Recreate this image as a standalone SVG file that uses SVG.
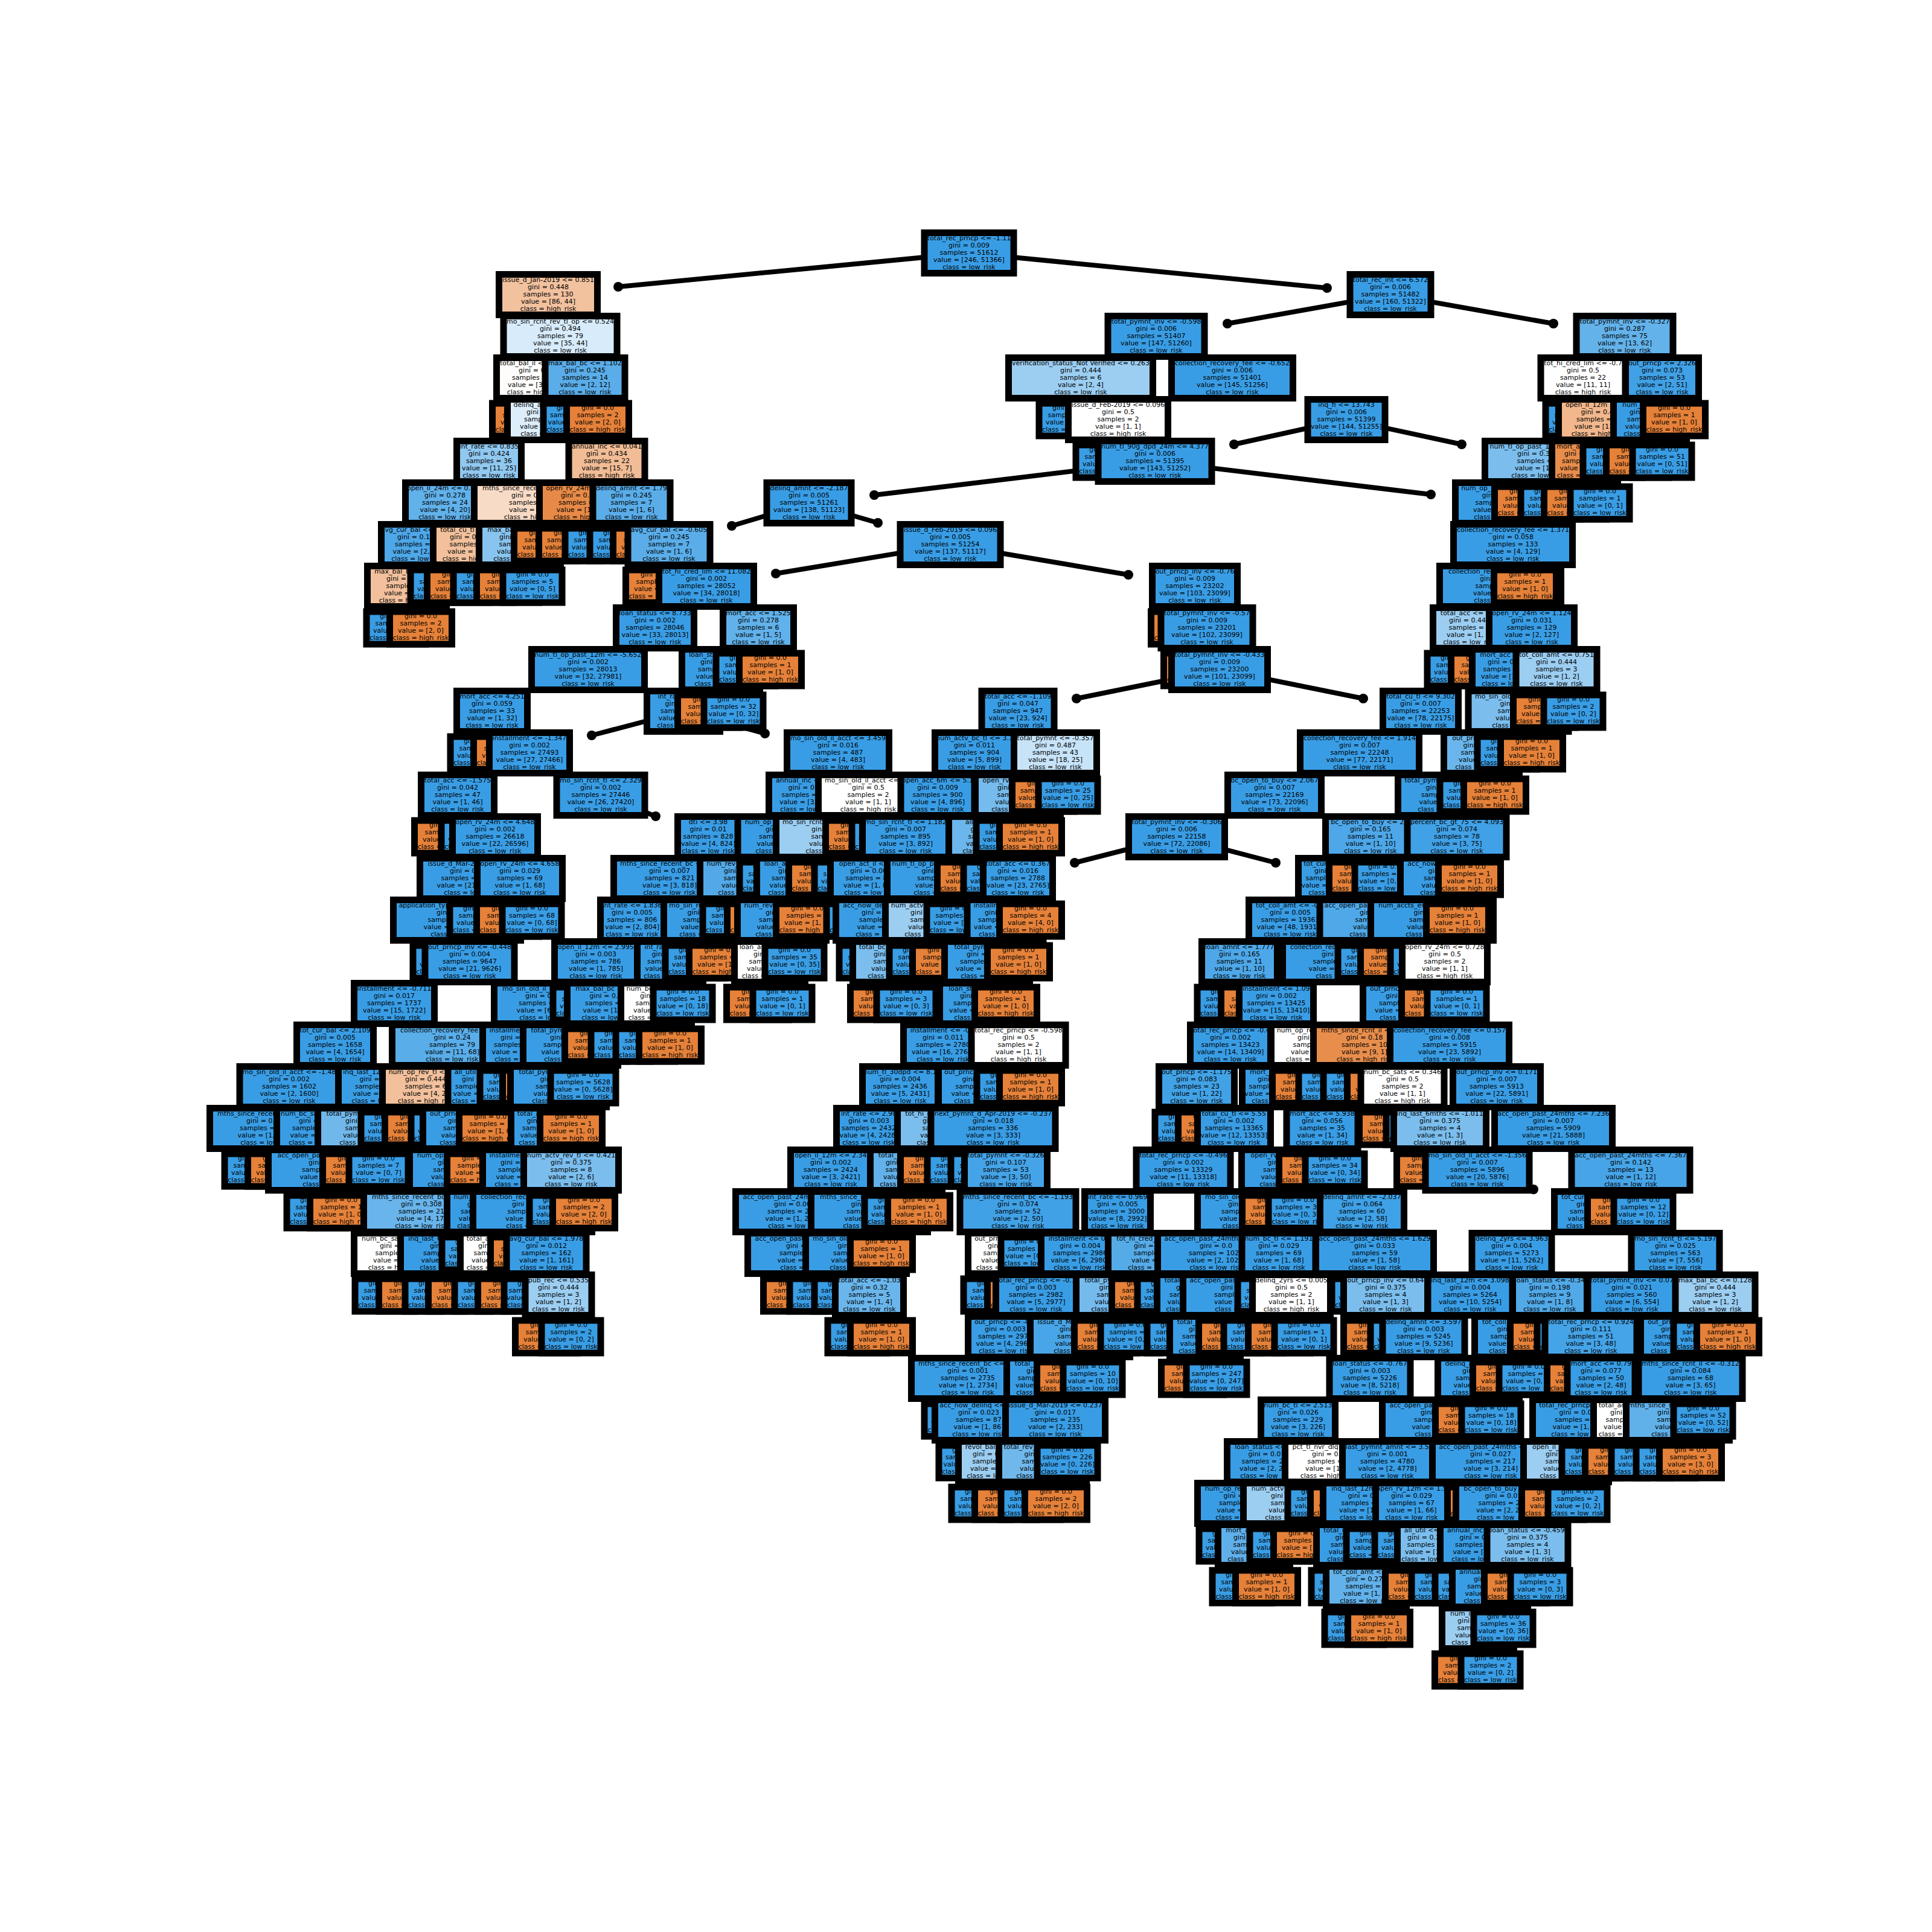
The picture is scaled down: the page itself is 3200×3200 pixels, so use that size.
<svg xmlns="http://www.w3.org/2000/svg" width="3200" height="3200" viewBox="0 0 3200 3200">
<style>
text{font:11px "DejaVu Sans","Liberation Sans",sans-serif;text-anchor:middle;fill:#000}
rect,.r{stroke:#000;stroke-width:11}
.b{fill:#399de5}.o{fill:#e58139}.w{fill:#fff}
.e{stroke:#000;stroke-width:8;fill:none;stroke-linecap:round;marker-end:url(#ball)}
</style>
<defs>
<marker id="ball" markerUnits="userSpaceOnUse" markerWidth="20" markerHeight="20" refX="10" refY="10" overflow="visible"><circle cx="10" cy="10" r="8" fill="#000"/></marker>
<rect id="lb" class="b" x="-49" y="-27" width="98" height="54"/>
<rect id="lo" class="o" x="-51.5" y="-27" width="103" height="54"/>
</defs>
<rect x="0" y="0" width="3200" height="3200" style="fill:#fff;stroke:none"/>
<g id="connectors">
<path class="e" d="M1605 419L1024 475"/><path class="e" d="M1605 419L2198 477"/>
<path class="e" d="M2303 488L2033 536"/><path class="e" d="M2303 488L2573 536"/>
<path class="e" d="M2230 695L2044 736"/><path class="e" d="M2230 695L2421 736"/>
<path class="e" d="M1913 764L1448 820"/><path class="e" d="M1913 764L2370 819"/>
<path class="e" d="M1340 833L1212 871"/><path class="e" d="M1340 833L1454 866"/>
<path class="e" d="M1574 902L1285 950"/><path class="e" d="M1574 902L1869 952"/>
<path class="e" d="M2020 1109L1783 1157"/><path class="e" d="M2020 1109L2258 1157"/>
<path class="e" d="M1132 1178L980 1218"/><path class="e" d="M1132 1178L1267 1215"/>
<path class="e" d="M995 1317L1086 1352"/>
<path class="e" d="M1949 1386L1780 1429"/><path class="e" d="M1949 1386L2113 1429"/>
<path class="e" d="M2380 1965L2540 1970"/>
</g>
<g transform="translate(0,419)">
<g id="n0_1" transform="translate(1605)"><rect class="b" x="-74" width="148" y="-33.5" height="67"/><text y="-21">total_rec_prncp &lt;= -1.11</text><text y="-9">gini = 0.009</text><text y="3">samples = 51612</text><text y="15">value = [246, 51366]</text><text y="27">class = low_risk</text></g>
</g>
<g transform="translate(0,488)">
<g id="n1_1" transform="translate(908)"><rect style="fill:#f2c19e" x="-81.5" width="163" y="-33.5" height="67"/><text y="-21">issue_d_Jan-2019 &lt;= 0.851</text><text y="-9">gini = 0.448</text><text y="3">samples = 130</text><text y="15">value = [86, 44]</text><text y="27">class = high_risk</text></g>
<g id="n1_2" transform="translate(2303)"><rect class="b" x="-67" width="134" y="-33.5" height="67"/><text y="-21">total_rec_int &lt;= 6.572</text><text y="-9">gini = 0.006</text><text y="3">samples = 51482</text><text y="15">value = [160, 51322]</text><text y="27">class = low_risk</text></g>
</g>
<g transform="translate(0,557)">
<g id="n2_1" transform="translate(928)"><rect style="fill:#d7ebfa" x="-94" width="188" y="-33.5" height="67"/><text y="-21">mo_sin_rcnt_rev_tl_op &lt;= 0.524</text><text y="-9">gini = 0.494</text><text y="3">samples = 79</text><text y="15">value = [35, 44]</text><text y="27">class = low_risk</text></g>
<g id="n2_2" transform="translate(1915)"><rect class="b" x="-80" width="160" y="-33.5" height="67"/><text y="-21">total_pymnt_inv &lt;= -0.598</text><text y="-9">gini = 0.006</text><text y="3">samples = 51407</text><text y="15">value = [147, 51260]</text><text y="27">class = low_risk</text></g>
<g id="n2_3" transform="translate(2691)"><rect style="fill:#63b2ea" x="-80" width="160" y="-33.5" height="67"/><text y="-21">total_pymnt_inv &lt;= -0.327</text><text y="-9">gini = 0.287</text><text y="3">samples = 75</text><text y="15">value = [13, 62]</text><text y="27">class = low_risk</text></g>
</g>
<g transform="translate(0,626)">
<g id="n3_1" transform="translate(886)"><rect style="fill:#fffdfb" x="-63.5" width="127" y="-33.5" height="67"/><text y="-21">total_bal_il &lt;= 0.123</text><text y="-9">gini = 0.5</text><text y="3">samples = 65</text><text y="15">value = [33, 32]</text><text y="27">class = high_risk</text></g>
<g id="n3_2" transform="translate(969)"><rect style="fill:#5aade9" x="-66" width="132" y="-33.5" height="67"/><text y="-21">max_bal_bc &lt;= 1.102</text><text y="-9">gini = 0.245</text><text y="3">samples = 14</text><text y="15">value = [2, 12]</text><text y="27">class = low_risk</text></g>
<g id="n3_3" transform="translate(1790)"><rect style="fill:#9ccef2" x="-119.5" width="239" y="-33.5" height="67"/><text y="-21">verification_status_Not Verified &lt;= 0.263</text><text y="-9">gini = 0.444</text><text y="3">samples = 6</text><text y="15">value = [2, 4]</text><text y="27">class = low_risk</text></g>
<g id="n3_4" transform="translate(2041)"><rect class="b" x="-100.5" width="201" y="-33.5" height="67"/><text y="-21">collection_recovery_fee &lt;= -0.652</text><text y="-9">gini = 0.006</text><text y="3">samples = 51401</text><text y="15">value = [145, 51256]</text><text y="27">class = low_risk</text></g>
<g id="n3_5" transform="translate(2622)"><rect class="w" x="-70" width="140" y="-33.5" height="67"/><text y="-21">tot_hi_cred_lim &lt;= -0.7</text><text y="-9">gini = 0.5</text><text y="3">samples = 22</text><text y="15">value = [11, 11]</text><text y="27">class = high_risk</text></g>
<g id="n3_6" transform="translate(2753)"><rect style="fill:#41a1e6" x="-60.5" width="121" y="-33.5" height="67"/><text y="-21">out_prncp &lt;= 2.326</text><text y="-9">gini = 0.073</text><text y="3">samples = 53</text><text y="15">value = [2, 51]</text><text y="27">class = low_risk</text></g>
</g>
<g transform="translate(0,695)">
<g id="n4_1" transform="translate(867)"><use href="#lo"/><text y="-16">gini = 0.0</text><text y="-4">samples = 6</text><text y="8">value = [6, 0]</text><text y="20">class = high_risk</text></g>
<g id="n4_2" transform="translate(906)"><rect style="fill:#ddeefb" x="-65.5" width="131" y="-33.5" height="67"/><text y="-21">delinq_amnt &lt;= 0.5</text><text y="-9">gini = 0.496</text><text y="3">samples = 59</text><text y="15">value = [27, 32]</text><text y="27">class = low_risk</text></g>
<g id="n4_3" transform="translate(949)"><use href="#lb"/><text y="-16">gini = 0.0</text><text y="-4">samples = 12</text><text y="8">value = [0, 12]</text><text y="20">class = low_risk</text></g>
<g id="n4_4" transform="translate(990)"><use href="#lo"/><text y="-16">gini = 0.0</text><text y="-4">samples = 2</text><text y="8">value = [2, 0]</text><text y="20">class = high_risk</text></g>
<g id="n4_5" transform="translate(1770)"><use href="#lb"/><text y="-16">gini = 0.0</text><text y="-4">samples = 4</text><text y="8">value = [0, 4]</text><text y="20">class = low_risk</text></g>
<g id="n4_6" transform="translate(1852)"><rect class="w" x="-82.5" width="165" y="-33.5" height="67"/><text y="-21">issue_d_Feb-2019 &lt;= 0.096</text><text y="-9">gini = 0.5</text><text y="3">samples = 2</text><text y="15">value = [1, 1]</text><text y="27">class = high_risk</text></g>
<g id="n4_7" transform="translate(2230)"><rect class="b" x="-64" width="128" y="-33.5" height="67"/><text y="-21">inq_fi &lt;= 13.743</text><text y="-9">gini = 0.006</text><text y="3">samples = 51399</text><text y="15">value = [144, 51255]</text><text y="27">class = low_risk</text></g>
<g id="n4_8" transform="translate(2609)"><use href="#lb"/><text y="-16">gini = 0.0</text><text y="-4">samples = 6</text><text y="8">value = [0, 6]</text><text y="20">class = low_risk</text></g>
<g id="n4_9" transform="translate(2649)"><rect style="fill:#f2b78d" x="-67.5" width="135" y="-33.5" height="67"/><text y="-21">open_il_12m &lt;= 1.2</text><text y="-9">gini = 0.43</text><text y="3">samples = 16</text><text y="15">value = [11, 5]</text><text y="27">class = high_risk</text></g>
<g id="n4_10" transform="translate(2733)"><rect class="b" x="-60.5" width="121" y="-33.5" height="67"/><text y="-21">num_il_tl &lt;= 1.5</text><text y="-9">gini = 0.038</text><text y="3">samples = 52</text><text y="15">value = [1, 51]</text><text y="27">class = low_risk</text></g>
<g id="n4_11" transform="translate(2773)"><use href="#lo"/><text y="-16">gini = 0.0</text><text y="-4">samples = 1</text><text y="8">value = [1, 0]</text><text y="20">class = high_risk</text></g>
</g>
<g transform="translate(0,764)">
<g id="n5_1" transform="translate(810)"><rect style="fill:#90c8f0" x="-53.5" width="107" y="-33.5" height="67"/><text y="-21">int_rate &lt;= 0.835</text><text y="-9">gini = 0.424</text><text y="3">samples = 36</text><text y="15">value = [11, 25]</text><text y="27">class = low_risk</text></g>
<g id="n5_2" transform="translate(1005)"><rect style="fill:#f1bc96" x="-63" width="126" y="-33.5" height="67"/><text y="-21">annual_inc &lt;= 0.041</text><text y="-9">gini = 0.434</text><text y="3">samples = 22</text><text y="15">value = [15, 7]</text><text y="27">class = high_risk</text></g>
<g id="n5_3" transform="translate(1831)"><use href="#lb"/><text y="-16">gini = 0.0</text><text y="-4">samples = 1</text><text y="8">value = [0, 1]</text><text y="20">class = low_risk</text></g>
<g id="n5_4" transform="translate(1913)"><rect class="b" x="-94" width="188" y="-33.5" height="67"/><text y="-21">num_tl_90g_dpd_24m &lt;= 4.377</text><text y="-9">gini = 0.006</text><text y="3">samples = 51395</text><text y="15">value = [143, 51252]</text><text y="27">class = low_risk</text></g>
<g id="n5_5" transform="translate(2547)"><rect style="fill:#7bbeee" x="-87.5" width="175" y="-33.5" height="67"/><text y="-21">num_tl_op_past_12m &lt;= 1.5</text><text y="-9">gini = 0.375</text><text y="3">samples = 4</text><text y="15">value = [1, 3]</text><text y="27">class = low_risk</text></g>
<g id="n5_6" transform="translate(2625)"><rect style="fill:#e88d4c" x="-54.5" width="109" y="-33.5" height="67"/><text y="-21">mort_acc &lt;= 0.8</text><text y="-9">gini = 0.278</text><text y="3">samples = 12</text><text y="15">value = [10, 2]</text><text y="27">class = high_risk</text></g>
<g id="n5_7" transform="translate(2671)"><use href="#lb"/><text y="-16">gini = 0.0</text><text y="-4">samples = 1</text><text y="8">value = [0, 1]</text><text y="20">class = low_risk</text></g>
<g id="n5_8" transform="translate(2712)"><use href="#lo"/><text y="-16">gini = 0.0</text><text y="-4">samples = 1</text><text y="8">value = [1, 0]</text><text y="20">class = high_risk</text></g>
<g id="n5_9" transform="translate(2753)"><use href="#lb"/><text y="-16">gini = 0.0</text><text y="-4">samples = 51</text><text y="8">value = [0, 51]</text><text y="20">class = low_risk</text></g>
</g>
<g transform="translate(0,833)">
<g id="n6_1" transform="translate(737)"><rect style="fill:#61b1ea" x="-65.5" width="131" y="-33.5" height="67"/><text y="-21">open_il_24m &lt;= 0.123</text><text y="-9">gini = 0.278</text><text y="3">samples = 24</text><text y="15">value = [4, 20]</text><text y="27">class = low_risk</text></g>
<g id="n6_2" transform="translate(881)"><rect style="fill:#f8dbc6" x="-95.5" width="191" y="-33.5" height="67"/><text y="-21">mths_since_recent_bc &lt;= 0.2</text><text y="-9">gini = 0.486</text><text y="3">samples = 12</text><text y="15">value = [7, 5]</text><text y="27">class = high_risk</text></g>
<g id="n6_3" transform="translate(963)"><rect style="fill:#e78a47" x="-69.5" width="139" y="-33.5" height="67"/><text y="-21">open_rv_24m &lt;= 1.5</text><text y="-9">gini = 0.124</text><text y="3">samples = 15</text><text y="15">value = [14, 1]</text><text y="27">class = high_risk</text></g>
<g id="n6_4" transform="translate(1046)"><rect style="fill:#5aade9" x="-64" width="128" y="-33.5" height="67"/><text y="-21">delinq_amnt &lt;= 1.79</text><text y="-9">gini = 0.245</text><text y="3">samples = 7</text><text y="15">value = [1, 6]</text><text y="27">class = low_risk</text></g>
<g id="n6_5" transform="translate(1340)"><rect class="b" x="-70" width="140" y="-33.5" height="67"/><text y="-21">delinq_amnt &lt;= -2.187</text><text y="-9">gini = 0.005</text><text y="3">samples = 51261</text><text y="15">value = [138, 51123]</text><text y="27">class = low_risk</text></g>
<g id="n6_6" transform="translate(2485)"><rect class="b" x="-74.5" width="149" y="-33.5" height="67"/><text y="-21">num_op_rev_tl &lt;= 1.23</text><text y="-9">gini = 0.06</text><text y="3">samples = 137</text><text y="15">value = [5, 132]</text><text y="27">class = low_risk</text></g>
<g id="n6_7" transform="translate(2527)"><use href="#lo"/><text y="-16">gini = 0.0</text><text y="-4">samples = 1</text><text y="8">value = [1, 0]</text><text y="20">class = high_risk</text></g>
<g id="n6_8" transform="translate(2568)"><use href="#lb"/><text y="-16">gini = 0.0</text><text y="-4">samples = 1</text><text y="8">value = [0, 1]</text><text y="20">class = low_risk</text></g>
<g id="n6_9" transform="translate(2609)"><use href="#lo"/><text y="-16">gini = 0.0</text><text y="-4">samples = 1</text><text y="8">value = [1, 0]</text><text y="20">class = high_risk</text></g>
<g id="n6_10" transform="translate(2650)"><use href="#lb"/><text y="-16">gini = 0.0</text><text y="-4">samples = 1</text><text y="8">value = [0, 1]</text><text y="20">class = low_risk</text></g>
</g>
<g transform="translate(0,902)">
<g id="n7_1" transform="translate(692)"><rect style="fill:#4da7e8" x="-60.5" width="121" y="-33.5" height="67"/><text y="-21">avg_cur_bal &lt;= 0.123</text><text y="-9">gini = 0.165</text><text y="3">samples = 22</text><text y="15">value = [2, 20]</text><text y="27">class = low_risk</text></g>
<g id="n7_2" transform="translate(779)"><rect style="fill:#f2c09c" x="-61.5" width="123" y="-33.5" height="67"/><text y="-21">total_cu_tl &lt;= 0.5</text><text y="-9">gini = 0.444</text><text y="3">samples = 3</text><text y="15">value = [2, 1]</text><text y="27">class = high_risk</text></g>
<g id="n7_3" transform="translate(861)"><rect style="fill:#88c4ef" x="-67.5" width="135" y="-33.5" height="67"/><text y="-21">max_bal_bc &lt;= 0.5</text><text y="-9">gini = 0.408</text><text y="3">samples = 7</text><text y="15">value = [2, 5]</text><text y="27">class = low_risk</text></g>
<g id="n7_4" transform="translate(903)"><use href="#lo"/><text y="-16">gini = 0.0</text><text y="-4">samples = 5</text><text y="8">value = [5, 0]</text><text y="20">class = high_risk</text></g>
<g id="n7_5" transform="translate(944)"><use href="#lo"/><text y="-16">gini = 0.0</text><text y="-4">samples = 14</text><text y="8">value = [14, 0]</text><text y="20">class = high_risk</text></g>
<g id="n7_6" transform="translate(985)"><use href="#lb"/><text y="-16">gini = 0.0</text><text y="-4">samples = 1</text><text y="8">value = [0, 1]</text><text y="20">class = low_risk</text></g>
<g id="n7_7" transform="translate(1026)"><use href="#lb"/><text y="-16">gini = 0.0</text><text y="-4">samples = 6</text><text y="8">value = [0, 6]</text><text y="20">class = low_risk</text></g>
<g id="n7_8" transform="translate(1067)"><use href="#lo"/><text y="-16">gini = 0.0</text><text y="-4">samples = 1</text><text y="8">value = [1, 0]</text><text y="20">class = high_risk</text></g>
<g id="n7_9" transform="translate(1108)"><rect style="fill:#5aade9" x="-68" width="136" y="-33.5" height="67"/><text y="-21">avg_cur_bal &lt;= -0.605</text><text y="-9">gini = 0.245</text><text y="3">samples = 7</text><text y="15">value = [1, 6]</text><text y="27">class = low_risk</text></g>
<g id="n7_10" transform="translate(1574)"><rect class="b" x="-83" width="166" y="-33.5" height="67"/><text y="-21">issue_d_Feb-2019 &lt;= 0.096</text><text y="-9">gini = 0.005</text><text y="3">samples = 51254</text><text y="15">value = [137, 51117]</text><text y="27">class = low_risk</text></g>
<g id="n7_11" transform="translate(2506)"><rect class="b" x="-98.5" width="197" y="-33.5" height="67"/><text y="-21">collection_recovery_fee &lt;= 1.371</text><text y="-9">gini = 0.058</text><text y="3">samples = 133</text><text y="15">value = [4, 129]</text><text y="27">class = low_risk</text></g>
</g>
<g transform="translate(0,971)">
<g id="n8_1" transform="translate(674)"><rect style="fill:#f2c09c" x="-65.5" width="131" y="-33.5" height="67"/><text y="-21">max_bal_bc &lt;= 0.5</text><text y="-9">gini = 0.444</text><text y="3">samples = 3</text><text y="15">value = [2, 1]</text><text y="27">class = high_risk</text></g>
<g id="n8_2" transform="translate(729)"><use href="#lb"/><text y="-16">gini = 0.0</text><text y="-4">samples = 1</text><text y="8">value = [0, 1]</text><text y="20">class = low_risk</text></g>
<g id="n8_3" transform="translate(759)"><use href="#lo"/><text y="-16">gini = 0.0</text><text y="-4">samples = 1</text><text y="8">value = [1, 0]</text><text y="20">class = high_risk</text></g>
<g id="n8_4" transform="translate(800)"><use href="#lb"/><text y="-16">gini = 0.0</text><text y="-4">samples = 1</text><text y="8">value = [0, 1]</text><text y="20">class = low_risk</text></g>
<g id="n8_5" transform="translate(841)"><use href="#lo"/><text y="-16">gini = 0.0</text><text y="-4">samples = 1</text><text y="8">value = [1, 0]</text><text y="20">class = high_risk</text></g>
<g id="n8_6" transform="translate(882)"><use href="#lb"/><text y="-16">gini = 0.0</text><text y="-4">samples = 5</text><text y="8">value = [0, 5]</text><text y="20">class = low_risk</text></g>
<g id="n8_7" transform="translate(1088)"><use href="#lo"/><text y="-16">gini = 0.0</text><text y="-4">samples = 1</text><text y="8">value = [1, 0]</text><text y="20">class = high_risk</text></g>
<g id="n8_8" transform="translate(1170)"><rect class="b" x="-78.5" width="157" y="-33.5" height="67"/><text y="-21">tot_hi_cred_lim &lt;= 11.082</text><text y="-9">gini = 0.002</text><text y="3">samples = 28052</text><text y="15">value = [34, 28018]</text><text y="27">class = low_risk</text></g>
<g id="n8_9" transform="translate(1979)"><rect class="b" x="-70.5" width="141" y="-33.5" height="67"/><text y="-21">out_prncp_inv &lt;= -0.76</text><text y="-9">gini = 0.009</text><text y="3">samples = 23202</text><text y="15">value = [103, 23099]</text><text y="27">class = low_risk</text></g>
<g id="n8_10" transform="translate(2485)"><rect class="b" x="-100.5" width="201" y="-33.5" height="67"/><text y="-21">collection_recovery_fee &lt;= 0.2</text><text y="-9">gini = 0.045</text><text y="3">samples = 132</text><text y="15">value = [3, 129]</text><text y="27">class = low_risk</text></g>
<g id="n8_11" transform="translate(2526)"><use href="#lo"/><text y="-16">gini = 0.0</text><text y="-4">samples = 1</text><text y="8">value = [1, 0]</text><text y="20">class = high_risk</text></g>
</g>
<g transform="translate(0,1040)">
<g id="n9_1" transform="translate(656)"><use href="#lb"/><text y="-16">gini = 0.0</text><text y="-4">samples = 1</text><text y="8">value = [0, 1]</text><text y="20">class = low_risk</text></g>
<g id="n9_2" transform="translate(697)"><use href="#lo"/><text y="-16">gini = 0.0</text><text y="-4">samples = 2</text><text y="8">value = [2, 0]</text><text y="20">class = high_risk</text></g>
<g id="n9_3" transform="translate(1085)"><rect class="b" x="-64.5" width="129" y="-33.5" height="67"/><text y="-21">loan_status &lt;= 8.733</text><text y="-9">gini = 0.002</text><text y="3">samples = 28046</text><text y="15">value = [33, 28013]</text><text y="27">class = low_risk</text></g>
<g id="n9_4" transform="translate(1256)"><rect style="fill:#61b1ea" x="-58.5" width="117" y="-33.5" height="67"/><text y="-21">mort_acc &lt;= 1.525</text><text y="-9">gini = 0.278</text><text y="3">samples = 6</text><text y="15">value = [1, 5]</text><text y="27">class = low_risk</text></g>
<g id="n9_5" transform="translate(1958)"><use href="#lo"/><text y="-16">gini = 0.0</text><text y="-4">samples = 1</text><text y="8">value = [1, 0]</text><text y="20">class = high_risk</text></g>
<g id="n9_6" transform="translate(1999)"><rect class="b" x="-76" width="152" y="-33.5" height="67"/><text y="-21">total_pymnt_inv &lt;= -0.57</text><text y="-9">gini = 0.009</text><text y="3">samples = 23201</text><text y="15">value = [102, 23099]</text><text y="27">class = low_risk</text></g>
<g id="n9_7" transform="translate(2434)"><rect style="fill:#9ccef2" x="-60.5" width="121" y="-33.5" height="67"/><text y="-21">total_acc &lt;= -1.2</text><text y="-9">gini = 0.444</text><text y="3">samples = 3</text><text y="15">value = [1, 2]</text><text y="27">class = low_risk</text></g>
<g id="n9_8" transform="translate(2537)"><rect class="b" x="-70.5" width="141" y="-33.5" height="67"/><text y="-21">open_rv_24m &lt;= 1.124</text><text y="-9">gini = 0.031</text><text y="3">samples = 129</text><text y="15">value = [2, 127]</text><text y="27">class = low_risk</text></g>
</g>
<g transform="translate(0,1109)">
<g id="n10_1" transform="translate(974)"><rect class="b" x="-93.5" width="187" y="-33.5" height="67"/><text y="-21">num_tl_op_past_12m &lt;= -5.652</text><text y="-9">gini = 0.002</text><text y="3">samples = 28013</text><text y="15">value = [32, 27981]</text><text y="27">class = low_risk</text></g>
<g id="n10_2" transform="translate(1194)"><rect class="b" x="-64.5" width="129" y="-33.5" height="67"/><text y="-21">loan_status &lt;= 0.4</text><text y="-9">gini = 0.059</text><text y="3">samples = 33</text><text y="15">value = [1, 32]</text><text y="27">class = low_risk</text></g>
<g id="n10_3" transform="translate(1235)"><use href="#lb"/><text y="-16">gini = 0.0</text><text y="-4">samples = 5</text><text y="8">value = [0, 5]</text><text y="20">class = low_risk</text></g>
<g id="n10_4" transform="translate(1276)"><use href="#lo"/><text y="-16">gini = 0.0</text><text y="-4">samples = 1</text><text y="8">value = [1, 0]</text><text y="20">class = high_risk</text></g>
<g id="n10_5" transform="translate(1979)"><use href="#lo"/><text y="-16">gini = 0.0</text><text y="-4">samples = 1</text><text y="8">value = [1, 0]</text><text y="20">class = high_risk</text></g>
<g id="n10_6" transform="translate(2020)"><rect class="b" x="-79.5" width="159" y="-33.5" height="67"/><text y="-21">total_pymnt_inv &lt;= -0.433</text><text y="-9">gini = 0.009</text><text y="3">samples = 23200</text><text y="15">value = [101, 23099]</text><text y="27">class = low_risk</text></g>
<g id="n10_7" transform="translate(2413)"><use href="#lb"/><text y="-16">gini = 0.0</text><text y="-4">samples = 2</text><text y="8">value = [0, 2]</text><text y="20">class = low_risk</text></g>
<g id="n10_8" transform="translate(2455)"><use href="#lo"/><text y="-16">gini = 0.0</text><text y="-4">samples = 1</text><text y="8">value = [1, 0]</text><text y="20">class = high_risk</text></g>
<g id="n10_9" transform="translate(2498)"><rect class="b" x="-59.5" width="119" y="-33.5" height="67"/><text y="-21">mort_acc &lt;= 0.7</text><text y="-9">gini = 0.016</text><text y="3">samples = 126</text><text y="15">value = [1, 125]</text><text y="27">class = low_risk</text></g>
<g id="n10_10" transform="translate(2578)"><rect style="fill:#9ccef2" x="-67" width="134" y="-33.5" height="67"/><text y="-21">tot_coll_amt &lt;= 0.751</text><text y="-9">gini = 0.444</text><text y="3">samples = 3</text><text y="15">value = [1, 2]</text><text y="27">class = low_risk</text></g>
</g>
<g transform="translate(0,1178)">
<g id="n11_1" transform="translate(815)"><rect class="b" x="-58.5" width="117" y="-33.5" height="67"/><text y="-21">mort_acc &lt;= 4.251</text><text y="-9">gini = 0.059</text><text y="3">samples = 33</text><text y="15">value = [1, 32]</text><text y="27">class = low_risk</text></g>
<g id="n11_2" transform="translate(1132)"><rect class="b" x="-60.5" width="121" y="-33.5" height="67"/><text y="-21">int_rate &lt;= 0.7</text><text y="-9">gini = 0.03</text><text y="3">samples = 33</text><text y="15">value = [1, 32]</text><text y="27">class = low_risk</text></g>
<g id="n11_3" transform="translate(1174)"><use href="#lo"/><text y="-16">gini = 0.0</text><text y="-4">samples = 1</text><text y="8">value = [1, 0]</text><text y="20">class = high_risk</text></g>
<g id="n11_4" transform="translate(1215)"><use href="#lb"/><text y="-16">gini = 0.0</text><text y="-4">samples = 32</text><text y="8">value = [0, 32]</text><text y="20">class = low_risk</text></g>
<g id="n11_5" transform="translate(1686)"><rect class="b" x="-60" width="120" y="-33.5" height="67"/><text y="-21">total_acc &lt;= -1.109</text><text y="-9">gini = 0.047</text><text y="3">samples = 947</text><text y="15">value = [23, 924]</text><text y="27">class = low_risk</text></g>
<g id="n11_6" transform="translate(2353)"><rect class="b" x="-62.5" width="125" y="-33.5" height="67"/><text y="-21">total_cu_tl &lt;= 9.302</text><text y="-9">gini = 0.007</text><text y="3">samples = 22253</text><text y="15">value = [78, 22175]</text><text y="27">class = low_risk</text></g>
<g id="n11_7" transform="translate(2515)"><rect style="fill:#7bbeee" x="-83" width="166" y="-33.5" height="67"/><text y="-21">mo_sin_old_il_acct &lt;= 0.9</text><text y="-9">gini = 0.32</text><text y="3">samples = 5</text><text y="15">value = [1, 4]</text><text y="27">class = low_risk</text></g>
<g id="n11_8" transform="translate(2558)"><use href="#lo"/><text y="-16">gini = 0.0</text><text y="-4">samples = 1</text><text y="8">value = [1, 0]</text><text y="20">class = high_risk</text></g>
<g id="n11_9" transform="translate(2606)"><use href="#lb"/><text y="-16">gini = 0.0</text><text y="-4">samples = 2</text><text y="8">value = [0, 2]</text><text y="20">class = low_risk</text></g>
</g>
<g transform="translate(0,1247)">
<g id="n12_1" transform="translate(795)"><use href="#lb"/><text y="-16">gini = 0.0</text><text y="-4">samples = 1</text><text y="8">value = [0, 1]</text><text y="20">class = low_risk</text></g>
<g id="n12_2" transform="translate(836)"><use href="#lo"/><text y="-16">gini = 0.0</text><text y="-4">samples = 1</text><text y="8">value = [1, 0]</text><text y="20">class = high_risk</text></g>
<g id="n12_3" transform="translate(877)"><rect class="b" x="-66.5" width="133" y="-33.5" height="67"/><text y="-21">installment &lt;= -1.347</text><text y="-9">gini = 0.002</text><text y="3">samples = 27493</text><text y="15">value = [27, 27466]</text><text y="27">class = low_risk</text></g>
<g id="n12_4" transform="translate(1388)"><rect class="b" x="-84.5" width="169" y="-33.5" height="67"/><text y="-21">mo_sin_old_il_acct &lt;= 3.459</text><text y="-9">gini = 0.016</text><text y="3">samples = 487</text><text y="15">value = [4, 483]</text><text y="27">class = low_risk</text></g>
<g id="n12_5" transform="translate(1614)"><rect class="b" x="-65.5" width="131" y="-33.5" height="67"/><text y="-21">num_actv_bc_tl &lt;= 3.1</text><text y="-9">gini = 0.011</text><text y="3">samples = 904</text><text y="15">value = [5, 899]</text><text y="27">class = low_risk</text></g>
<g id="n12_6" transform="translate(1748)"><rect style="fill:#c7e3f8" x="-68.5" width="137" y="-33.5" height="67"/><text y="-21">total_pymnt &lt;= -0.357</text><text y="-9">gini = 0.487</text><text y="3">samples = 43</text><text y="15">value = [18, 25]</text><text y="27">class = low_risk</text></g>
<g id="n12_7" transform="translate(2252)"><rect class="b" x="-98.5" width="197" y="-33.5" height="67"/><text y="-21">collection_recovery_fee &lt;= 1.914</text><text y="-9">gini = 0.007</text><text y="3">samples = 22248</text><text y="15">value = [77, 22171]</text><text y="27">class = low_risk</text></g>
<g id="n12_8" transform="translate(2454)"><rect style="fill:#6ab6ec" x="-62.5" width="125" y="-33.5" height="67"/><text y="-21">out_prncp &lt;= 0.5</text><text y="-9">gini = 0.32</text><text y="3">samples = 5</text><text y="15">value = [1, 4]</text><text y="27">class = low_risk</text></g>
<g id="n12_9" transform="translate(2496)"><use href="#lb"/><text y="-16">gini = 0.0</text><text y="-4">samples = 4</text><text y="8">value = [0, 4]</text><text y="20">class = low_risk</text></g>
<g id="n12_10" transform="translate(2537)"><use href="#lo"/><text y="-16">gini = 0.0</text><text y="-4">samples = 1</text><text y="8">value = [1, 0]</text><text y="20">class = high_risk</text></g>
</g>
<g transform="translate(0,1317)">
<g id="n13_1" transform="translate(758)"><rect class="b" x="-60.5" width="121" y="-33.5" height="67"/><text y="-21">total_acc &lt;= -1.575</text><text y="-9">gini = 0.042</text><text y="3">samples = 47</text><text y="15">value = [1, 46]</text><text y="27">class = low_risk</text></g>
<g id="n13_2" transform="translate(995)"><rect class="b" x="-73" width="146" y="-33.5" height="67"/><text y="-21">mo_sin_rcnt_tl &lt;= 2.329</text><text y="-9">gini = 0.002</text><text y="3">samples = 27446</text><text y="15">value = [26, 27420]</text><text y="27">class = low_risk</text></g>
<g id="n13_3" transform="translate(1336)"><rect class="b" x="-62.5" width="125" y="-33.5" height="67"/><text y="-21">annual_inc &lt;= 0.4</text><text y="-9">gini = 0.01</text><text y="3">samples = 485</text><text y="15">value = [3, 482]</text><text y="27">class = low_risk</text></g>
<g id="n13_4" transform="translate(1438)"><rect class="w" x="-82.5" width="165" y="-33.5" height="67"/><text y="-21">mo_sin_old_il_acct &lt;= 0.3</text><text y="-9">gini = 0.5</text><text y="3">samples = 2</text><text y="15">value = [1, 1]</text><text y="27">class = high_risk</text></g>
<g id="n13_5" transform="translate(1553)"><rect class="b" x="-61" width="122" y="-33.5" height="67"/><text y="-21">open_acc_6m &lt;= 5.1</text><text y="-9">gini = 0.009</text><text y="3">samples = 900</text><text y="15">value = [4, 896]</text><text y="27">class = low_risk</text></g>
<g id="n13_6" transform="translate(1686)"><rect style="fill:#76bbed" x="-70.5" width="141" y="-33.5" height="67"/><text y="-21">open_rv_24m &lt;= 0.6</text><text y="-9">gini = 0.375</text><text y="3">samples = 4</text><text y="15">value = [1, 3]</text><text y="27">class = low_risk</text></g>
<g id="n13_7" transform="translate(1728)"><use href="#lo"/><text y="-16">gini = 0.0</text><text y="-4">samples = 14</text><text y="8">value = [14, 0]</text><text y="20">class = high_risk</text></g>
<g id="n13_8" transform="translate(1769)"><use href="#lb"/><text y="-16">gini = 0.0</text><text y="-4">samples = 25</text><text y="8">value = [0, 25]</text><text y="20">class = low_risk</text></g>
<g id="n13_9" transform="translate(2111)"><rect class="b" x="-77.5" width="155" y="-33.5" height="67"/><text y="-21">bc_open_to_buy &lt;= 2.067</text><text y="-9">gini = 0.007</text><text y="3">samples = 22169</text><text y="15">value = [73, 22096]</text><text y="27">class = low_risk</text></g>
<g id="n13_10" transform="translate(2392)"><rect class="b" x="-76.5" width="153" y="-33.5" height="67"/><text y="-21">total_pymnt_inv &lt;= 0.5</text><text y="-9">gini = 0.05</text><text y="3">samples = 79</text><text y="15">value = [4, 75]</text><text y="27">class = low_risk</text></g>
<g id="n13_11" transform="translate(2434)"><use href="#lb"/><text y="-16">gini = 0.0</text><text y="-4">samples = 1</text><text y="8">value = [0, 1]</text><text y="20">class = low_risk</text></g>
<g id="n13_12" transform="translate(2476)"><use href="#lo"/><text y="-16">gini = 0.0</text><text y="-4">samples = 1</text><text y="8">value = [1, 0]</text><text y="20">class = high_risk</text></g>
</g>
<g transform="translate(0,1386)">
<g id="n14_1" transform="translate(738)"><use href="#lo"/><text y="-16">gini = 0.0</text><text y="-4">samples = 1</text><text y="8">value = [1, 0]</text><text y="20">class = high_risk</text></g>
<g id="n14_2" transform="translate(780)"><use href="#lb"/><text y="-16">gini = 0.0</text><text y="-4">samples = 1</text><text y="8">value = [0, 1]</text><text y="20">class = low_risk</text></g>
<g id="n14_3" transform="translate(820)"><rect class="b" x="-70.5" width="141" y="-33.5" height="67"/><text y="-21">open_rv_24m &lt;= 4.648</text><text y="-9">gini = 0.002</text><text y="3">samples = 26618</text><text y="15">value = [22, 26596]</text><text y="27">class = low_risk</text></g>
<g id="n14_4" transform="translate(1173)"><rect class="b" x="-50.5" width="101" y="-33.5" height="67"/><text y="-21">dti &lt;= 3.98</text><text y="-9">gini = 0.01</text><text y="3">samples = 828</text><text y="15">value = [4, 824]</text><text y="27">class = low_risk</text></g>
<g id="n14_5" transform="translate(1295)"><rect class="b" x="-73" width="146" y="-33.5" height="67"/><text y="-21">num_op_rev_tl &lt;= 0.7</text><text y="-9">gini = 0.1</text><text y="3">samples = 20</text><text y="15">value = [1, 19]</text><text y="27">class = low_risk</text></g>
<g id="n14_6" transform="translate(1378)"><rect style="fill:#9ccef2" x="-92.5" width="185" y="-33.5" height="67"/><text y="-21">mo_sin_rcnt_rev_tl_op &lt;= 0.6</text><text y="-9">gini = 0.444</text><text y="3">samples = 3</text><text y="15">value = [1, 2]</text><text y="27">class = low_risk</text></g>
<g id="n14_7" transform="translate(1419)"><use href="#lo"/><text y="-16">gini = 0.0</text><text y="-4">samples = 1</text><text y="8">value = [1, 0]</text><text y="20">class = high_risk</text></g>
<g id="n14_8" transform="translate(1460)"><use href="#lb"/><text y="-16">gini = 0.0</text><text y="-4">samples = 1</text><text y="8">value = [0, 1]</text><text y="20">class = low_risk</text></g>
<g id="n14_9" transform="translate(1500)"><rect class="b" x="-71.5" width="143" y="-33.5" height="67"/><text y="-21">mo_sin_rcnt_tl &lt;= 1.182</text><text y="-9">gini = 0.007</text><text y="3">samples = 895</text><text y="15">value = [3, 892]</text><text y="27">class = low_risk</text></g>
<g id="n14_10" transform="translate(1638)"><rect style="fill:#6bb6ec" x="-66.5" width="133" y="-33.5" height="67"/><text y="-21">all_util &lt;= 0.7</text><text y="-9">gini = 0.32</text><text y="3">samples = 5</text><text y="15">value = [1, 4]</text><text y="27">class = low_risk</text></g>
<g id="n14_11" transform="translate(1666)"><use href="#lb"/><text y="-16">gini = 0.0</text><text y="-4">samples = 1</text><text y="8">value = [0, 1]</text><text y="20">class = low_risk</text></g>
<g id="n14_12" transform="translate(1707)"><use href="#lo"/><text y="-16">gini = 0.0</text><text y="-4">samples = 1</text><text y="8">value = [1, 0]</text><text y="20">class = high_risk</text></g>
<g id="n14_13" transform="translate(1949)"><rect class="b" x="-79.5" width="159" y="-33.5" height="67"/><text y="-21">total_pymnt_inv &lt;= -0.306</text><text y="-9">gini = 0.006</text><text y="3">samples = 22158</text><text y="15">value = [72, 22086]</text><text y="27">class = low_risk</text></g>
<g id="n14_14" transform="translate(2270)"><rect style="fill:#4da7e8" x="-74.5" width="149" y="-33.5" height="67"/><text y="-21">bc_open_to_buy &lt;= 2.1</text><text y="-9">gini = 0.165</text><text y="3">samples = 11</text><text y="15">value = [1, 10]</text><text y="27">class = low_risk</text></g>
<g id="n14_15" transform="translate(2413)"><rect style="fill:#41a1e6" x="-82" width="164" y="-33.5" height="67"/><text y="-21">percent_bc_gt_75 &lt;= 4.093</text><text y="-9">gini = 0.074</text><text y="3">samples = 78</text><text y="15">value = [3, 75]</text><text y="27">class = low_risk</text></g>
</g>
<g transform="translate(0,1455)">
<g id="n15_1" transform="translate(779)"><rect class="b" x="-83.5" width="167" y="-33.5" height="67"/><text y="-21">issue_d_Mar-2019 &lt;= 0.1</text><text y="-9">gini = 0.002</text><text y="3">samples = 26549</text><text y="15">value = [21, 26528]</text><text y="27">class = low_risk</text></g>
<g id="n15_2" transform="translate(861)"><rect class="b" x="-70.5" width="141" y="-33.5" height="67"/><text y="-21">open_rv_24m &lt;= 4.658</text><text y="-9">gini = 0.029</text><text y="3">samples = 69</text><text y="15">value = [1, 68]</text><text y="27">class = low_risk</text></g>
<g id="n15_3" transform="translate(1109)"><rect class="b" x="-92.5" width="185" y="-33.5" height="67"/><text y="-21">mths_since_recent_bc &lt;= 0.9</text><text y="-9">gini = 0.007</text><text y="3">samples = 821</text><text y="15">value = [3, 818]</text><text y="27">class = low_risk</text></g>
<g id="n15_4" transform="translate(1233)"><rect style="fill:#53a9e8" x="-73.5" width="147" y="-33.5" height="67"/><text y="-21">num_rev_accts &lt;= 0.7</text><text y="-9">gini = 0.245</text><text y="3">samples = 7</text><text y="15">value = [1, 6]</text><text y="27">class = low_risk</text></g>
<g id="n15_5" transform="translate(1274)"><use href="#lb"/><text y="-16">gini = 0.0</text><text y="-4">samples = 1</text><text y="8">value = [0, 1]</text><text y="20">class = low_risk</text></g>
<g id="n15_6" transform="translate(1316)"><rect class="b" x="-62.5" width="125" y="-33.5" height="67"/><text y="-21">loan_amnt &lt;= 0.7</text><text y="-9">gini = 0.1</text><text y="3">samples = 19</text><text y="15">value = [1, 18]</text><text y="27">class = low_risk</text></g>
<g id="n15_7" transform="translate(1358)"><use href="#lo"/><text y="-16">gini = 0.0</text><text y="-4">samples = 1</text><text y="8">value = [1, 0]</text><text y="20">class = high_risk</text></g>
<g id="n15_8" transform="translate(1398)"><use href="#lb"/><text y="-16">gini = 0.0</text><text y="-4">samples = 1</text><text y="8">value = [0, 1]</text><text y="20">class = low_risk</text></g>
<g id="n15_9" transform="translate(1442)"><rect class="b" x="-66.5" width="133" y="-33.5" height="67"/><text y="-21">open_act_il &lt;= 0.6</text><text y="-9">gini = 0.002</text><text y="3">samples = 820</text><text y="15">value = [1, 819]</text><text y="27">class = low_risk</text></g>
<g id="n15_10" transform="translate(1557)"><rect class="b" x="-87.5" width="175" y="-33.5" height="67"/><text y="-21">num_tl_op_past_12m &lt;= 0.5</text><text y="-9">gini = 0.01</text><text y="3">samples = 75</text><text y="15">value = [1, 74]</text><text y="27">class = low_risk</text></g>
<g id="n15_11" transform="translate(1604)"><use href="#lo"/><text y="-16">gini = 0.0</text><text y="-4">samples = 1</text><text y="8">value = [1, 0]</text><text y="20">class = high_risk</text></g>
<g id="n15_12" transform="translate(1645)"><use href="#lb"/><text y="-16">gini = 0.0</text><text y="-4">samples = 1</text><text y="8">value = [0, 1]</text><text y="20">class = low_risk</text></g>
<g id="n15_13" transform="translate(1686)"><rect class="b" x="-57.5" width="115" y="-33.5" height="67"/><text y="-21">total_acc &lt;= 0.367</text><text y="-9">gini = 0.016</text><text y="3">samples = 2788</text><text y="15">value = [23, 2765]</text><text y="27">class = low_risk</text></g>
<g id="n15_14" transform="translate(2211)"><rect class="b" x="-60.5" width="121" y="-33.5" height="67"/><text y="-21">tot_cur_bal &lt;= 0.9</text><text y="-9">gini = 0.005</text><text y="3">samples = 19362</text><text y="15">value = [48, 19314]</text><text y="27">class = low_risk</text></g>
<g id="n15_15" transform="translate(2253)"><use href="#lo"/><text y="-16">gini = 0.0</text><text y="-4">samples = 1</text><text y="8">value = [1, 0]</text><text y="20">class = high_risk</text></g>
<g id="n15_16" transform="translate(2293)"><use href="#lb"/><text y="-16">gini = 0.0</text><text y="-4">samples = 10</text><text y="8">value = [0, 10]</text><text y="20">class = low_risk</text></g>
<g id="n15_17" transform="translate(2396)"><rect class="b" x="-76.5" width="153" y="-33.5" height="67"/><text y="-21">acc_now_delinq &lt;= 0.7</text><text y="-9">gini = 0.05</text><text y="3">samples = 77</text><text y="15">value = [2, 75]</text><text y="27">class = low_risk</text></g>
<g id="n15_18" transform="translate(2434)"><use href="#lo"/><text y="-16">gini = 0.0</text><text y="-4">samples = 1</text><text y="8">value = [1, 0]</text><text y="20">class = high_risk</text></g>
</g>
<g transform="translate(0,1524)">
<g id="n16_1" transform="translate(757)"><rect class="b" x="-105.5" width="211" y="-33.5" height="67"/><text y="-21">application_type_Individual &lt;= 0.5</text><text y="-9">gini = 0.002</text><text y="3">samples = 26000</text><text y="15">value = [20, 25980]</text><text y="27">class = low_risk</text></g>
<g id="n16_2" transform="translate(794)"><use href="#lb"/><text y="-16">gini = 0.0</text><text y="-4">samples = 1</text><text y="8">value = [0, 1]</text><text y="20">class = low_risk</text></g>
<g id="n16_3" transform="translate(841)"><use href="#lo"/><text y="-16">gini = 0.0</text><text y="-4">samples = 1</text><text y="8">value = [1, 0]</text><text y="20">class = high_risk</text></g>
<g id="n16_4" transform="translate(881)"><use href="#lb"/><text y="-16">gini = 0.0</text><text y="-4">samples = 68</text><text y="8">value = [0, 68]</text><text y="20">class = low_risk</text></g>
<g id="n16_5" transform="translate(1047)"><rect class="b" x="-52.5" width="105" y="-33.5" height="67"/><text y="-21">int_rate &lt;= 1.836</text><text y="-9">gini = 0.005</text><text y="3">samples = 806</text><text y="15">value = [2, 804]</text><text y="27">class = low_risk</text></g>
<g id="n16_6" transform="translate(1169)"><rect class="b" x="-69.5" width="139" y="-33.5" height="67"/><text y="-21">mo_sin_rcnt_tl &lt;= 0.6</text><text y="-9">gini = 0.08</text><text y="3">samples = 15</text><text y="15">value = [1, 14]</text><text y="27">class = low_risk</text></g>
<g id="n16_7" transform="translate(1213)"><use href="#lb"/><text y="-16">gini = 0.0</text><text y="-4">samples = 1</text><text y="8">value = [0, 1]</text><text y="20">class = low_risk</text></g>
<g id="n16_8" transform="translate(1256)"><use href="#lo"/><text y="-16">gini = 0.0</text><text y="-4">samples = 1</text><text y="8">value = [1, 0]</text><text y="20">class = high_risk</text></g>
<g id="n16_9" transform="translate(1295)"><rect class="b" x="-73.5" width="147" y="-33.5" height="67"/><text y="-21">num_rev_accts &lt;= 0.6</text><text y="-9">gini = 0.1</text><text y="3">samples = 18</text><text y="15">value = [1, 17]</text><text y="27">class = low_risk</text></g>
<g id="n16_10" transform="translate(1337)"><use href="#lo"/><text y="-16">gini = 0.0</text><text y="-4">samples = 1</text><text y="8">value = [1, 0]</text><text y="20">class = high_risk</text></g>
<g id="n16_11" transform="translate(1418)"><use href="#lb"/><text y="-16">gini = 0.0</text><text y="-4">samples = 1</text><text y="8">value = [0, 1]</text><text y="20">class = low_risk</text></g>
<g id="n16_12" transform="translate(1461)"><rect class="b" x="-76.5" width="153" y="-33.5" height="67"/><text y="-21">acc_now_delinq &lt;= 0.5</text><text y="-9">gini = 0.007</text><text y="3">samples = 80</text><text y="15">value = [1, 79]</text><text y="27">class = low_risk</text></g>
<g id="n16_13" transform="translate(1542)"><rect style="fill:#9ccef2" x="-75.5" width="151" y="-33.5" height="67"/><text y="-21">num_actv_rev_tl &lt;= 0.6</text><text y="-9">gini = 0.444</text><text y="3">samples = 3</text><text y="15">value = [1, 2]</text><text y="27">class = low_risk</text></g>
<g id="n16_14" transform="translate(1584)"><use href="#lb"/><text y="-16">gini = 0.0</text><text y="-4">samples = 1</text><text y="8">value = [0, 1]</text><text y="20">class = low_risk</text></g>
<g id="n16_15" transform="translate(1665)"><rect class="b" x="-63" width="126" y="-33.5" height="67"/><text y="-21">installment &lt;= 0.6</text><text y="-9">gini = 0.011</text><text y="3">samples = 2784</text><text y="15">value = [19, 2765]</text><text y="27">class = low_risk</text></g>
<g id="n16_16" transform="translate(1707)"><use href="#lo"/><text y="-16">gini = 0.0</text><text y="-4">samples = 4</text><text y="8">value = [4, 0]</text><text y="20">class = high_risk</text></g>
<g id="n16_17" transform="translate(2137)"><rect class="b" x="-68.5" width="137" y="-33.5" height="67"/><text y="-21">tot_coll_amt &lt;= -0.1</text><text y="-9">gini = 0.005</text><text y="3">samples = 19361</text><text y="15">value = [48, 19313]</text><text y="27">class = low_risk</text></g>
<g id="n16_18" transform="translate(2279)"><rect style="fill:#4fa8e8" x="-93" width="186" y="-33.5" height="67"/><text y="-21">acc_open_past_24mths &lt;= 0.3</text><text y="-9">gini = 0.2</text><text y="3">samples = 9</text><text y="15">value = [1, 8]</text><text y="27">class = low_risk</text></g>
<g id="n16_19" transform="translate(2372)"><rect class="b" x="-101.5" width="203" y="-33.5" height="67"/><text y="-21">num_accts_ever_120_pd &lt;= 0.7</text><text y="-9">gini = 0.03</text><text y="3">samples = 76</text><text y="15">value = [1, 75]</text><text y="27">class = low_risk</text></g>
<g id="n16_20" transform="translate(2414)"><use href="#lo"/><text y="-16">gini = 0.0</text><text y="-4">samples = 1</text><text y="8">value = [1, 0]</text><text y="20">class = high_risk</text></g>
</g>
<g transform="translate(0,1593)">
<g id="n17_1" transform="translate(733)"><use href="#lb"/><text y="-16">gini = 0.0</text><text y="-4">samples = 1</text><text y="8">value = [0, 1]</text><text y="20">class = low_risk</text></g>
<g id="n17_2" transform="translate(778)"><rect class="b" x="-74" width="148" y="-33.5" height="67"/><text y="-21">out_prncp_inv &lt;= -0.448</text><text y="-9">gini = 0.004</text><text y="3">samples = 9647</text><text y="15">value = [21, 9626]</text><text y="27">class = low_risk</text></g>
<g id="n17_3" transform="translate(987)"><rect class="b" x="-68.5" width="137" y="-33.5" height="67"/><text y="-21">open_il_12m &lt;= 2.995</text><text y="-9">gini = 0.003</text><text y="3">samples = 786</text><text y="15">value = [1, 785]</text><text y="27">class = low_risk</text></g>
<g id="n17_4" transform="translate(1110)"><rect class="b" x="-54.5" width="109" y="-33.5" height="67"/><text y="-21">int_rate &lt;= 0.5</text><text y="-9">gini = 0.09</text><text y="3">samples = 20</text><text y="15">value = [1, 19]</text><text y="27">class = low_risk</text></g>
<g id="n17_5" transform="translate(1151)"><use href="#lb"/><text y="-16">gini = 0.0</text><text y="-4">samples = 1</text><text y="8">value = [0, 1]</text><text y="20">class = low_risk</text></g>
<g id="n17_6" transform="translate(1193)"><use href="#lo"/><text y="-16">gini = 0.0</text><text y="-4">samples = 1</text><text y="8">value = [1, 0]</text><text y="20">class = high_risk</text></g>
<g id="n17_7" transform="translate(1275)"><rect class="w" x="-58.5" width="117" y="-33.5" height="67"/><text y="-21">loan_amnt &lt;= 0.5</text><text y="-9">gini = 0.5</text><text y="3">samples = 2</text><text y="15">value = [1, 1]</text><text y="27">class = high_risk</text></g>
<g id="n17_8" transform="translate(1316)"><use href="#lb"/><text y="-16">gini = 0.0</text><text y="-4">samples = 35</text><text y="8">value = [0, 35]</text><text y="20">class = low_risk</text></g>
<g id="n17_9" transform="translate(1439)"><use href="#lb"/><text y="-16">gini = 0.0</text><text y="-4">samples = 1</text><text y="8">value = [0, 1]</text><text y="20">class = low_risk</text></g>
<g id="n17_10" transform="translate(1481)"><rect style="fill:#7bbeee" x="-68.5" width="137" y="-33.5" height="67"/><text y="-21">total_bc_limit &lt;= 0.6</text><text y="-9">gini = 0.375</text><text y="3">samples = 4</text><text y="15">value = [1, 3]</text><text y="27">class = low_risk</text></g>
<g id="n17_11" transform="translate(1522)"><use href="#lb"/><text y="-16">gini = 0.0</text><text y="-4">samples = 1</text><text y="8">value = [0, 1]</text><text y="20">class = low_risk</text></g>
<g id="n17_12" transform="translate(1563)"><use href="#lo"/><text y="-16">gini = 0.0</text><text y="-4">samples = 1</text><text y="8">value = [1, 0]</text><text y="20">class = high_risk</text></g>
<g id="n17_13" transform="translate(1635)"><rect class="b" x="-70.5" width="141" y="-33.5" height="67"/><text y="-21">total_pymnt &lt;= 0.6</text><text y="-9">gini = 0.011</text><text y="3">samples = 2783</text><text y="15">value = [16, 2767]</text><text y="27">class = low_risk</text></g>
<g id="n17_14" transform="translate(1687)"><use href="#lo"/><text y="-16">gini = 0.0</text><text y="-4">samples = 1</text><text y="8">value = [1, 0]</text><text y="20">class = high_risk</text></g>
<g id="n17_15" transform="translate(2053)"><rect style="fill:#4da7e8" x="-62.5" width="125" y="-33.5" height="67"/><text y="-21">loan_amnt &lt;= 1.777</text><text y="-9">gini = 0.165</text><text y="3">samples = 11</text><text y="15">value = [1, 10]</text><text y="27">class = low_risk</text></g>
<g id="n17_16" transform="translate(2223)"><rect class="b" x="-98.5" width="197" y="-33.5" height="67"/><text y="-21">collection_recovery_fee &lt;= 0.8</text><text y="-9">gini = 0.004</text><text y="3">samples = 19350</text><text y="15">value = [47, 19303]</text><text y="27">class = low_risk</text></g>
<g id="n17_17" transform="translate(2265)"><use href="#lb"/><text y="-16">gini = 0.0</text><text y="-4">samples = 1</text><text y="8">value = [0, 1]</text><text y="20">class = low_risk</text></g>
<g id="n17_18" transform="translate(2305)"><use href="#lo"/><text y="-16">gini = 0.0</text><text y="-4">samples = 1</text><text y="8">value = [1, 0]</text><text y="20">class = high_risk</text></g>
<g id="n17_19" transform="translate(2352)"><use href="#lb"/><text y="-16">gini = 0.0</text><text y="-4">samples = 1</text><text y="8">value = [0, 1]</text><text y="20">class = low_risk</text></g>
<g id="n17_20" transform="translate(2393)"><rect class="w" x="-70.5" width="141" y="-33.5" height="67"/><text y="-21">open_rv_24m &lt;= 0.728</text><text y="-9">gini = 0.5</text><text y="3">samples = 2</text><text y="15">value = [1, 1]</text><text y="27">class = high_risk</text></g>
</g>
<g transform="translate(0,1662)">
<g id="n18_1" transform="translate(653)"><rect class="b" x="-66.5" width="133" y="-33.5" height="67"/><text y="-21">installment &lt;= -0.711</text><text y="-9">gini = 0.017</text><text y="3">samples = 1737</text><text y="15">value = [15, 1722]</text><text y="27">class = low_risk</text></g>
<g id="n18_2" transform="translate(904)"><rect class="b" x="-85.5" width="171" y="-33.5" height="67"/><text y="-21">mo_sin_old_il_acct &lt;= 0.2</text><text y="-9">gini = 0.002</text><text y="3">samples = 7910</text><text y="15">value = [6, 7904]</text><text y="27">class = low_risk</text></g>
<g id="n18_3" transform="translate(965)"><use href="#lb"/><text y="-16">gini = 0.0</text><text y="-4">samples = 1</text><text y="8">value = [0, 1]</text><text y="20">class = low_risk</text></g>
<g id="n18_4" transform="translate(1007)"><rect class="b" x="-67.5" width="135" y="-33.5" height="67"/><text y="-21">max_bal_bc &lt;= 0.6</text><text y="-9">gini = 0.04</text><text y="3">samples = 50</text><text y="15">value = [1, 49]</text><text y="27">class = low_risk</text></g>
<g id="n18_5" transform="translate(1087)"><rect class="w" x="-58.5" width="117" y="-33.5" height="67"/><text y="-21">num_bc_tl &lt;= 0.6</text><text y="-9">gini = 0.5</text><text y="3">samples = 2</text><text y="15">value = [1, 1]</text><text y="27">class = high_risk</text></g>
<g id="n18_6" transform="translate(1131)"><use href="#lb"/><text y="-16">gini = 0.0</text><text y="-4">samples = 18</text><text y="8">value = [0, 18]</text><text y="20">class = low_risk</text></g>
<g id="n18_7" transform="translate(1255)"><use href="#lo"/><text y="-16">gini = 0.0</text><text y="-4">samples = 1</text><text y="8">value = [1, 0]</text><text y="20">class = high_risk</text></g>
<g id="n18_8" transform="translate(1296)"><use href="#lb"/><text y="-16">gini = 0.0</text><text y="-4">samples = 1</text><text y="8">value = [0, 1]</text><text y="20">class = low_risk</text></g>
<g id="n18_9" transform="translate(1460)"><use href="#lo"/><text y="-16">gini = 0.0</text><text y="-4">samples = 1</text><text y="8">value = [1, 0]</text><text y="20">class = high_risk</text></g>
<g id="n18_10" transform="translate(1501)"><use href="#lb"/><text y="-16">gini = 0.0</text><text y="-4">samples = 3</text><text y="8">value = [0, 3]</text><text y="20">class = low_risk</text></g>
<g id="n18_11" transform="translate(1624)"><rect class="b" x="-67.5" width="135" y="-33.5" height="67"/><text y="-21">loan_status &lt;= 0.6</text><text y="-9">gini = 0.011</text><text y="3">samples = 2782</text><text y="15">value = [16, 2766]</text><text y="27">class = low_risk</text></g>
<g id="n18_12" transform="translate(1666)"><use href="#lo"/><text y="-16">gini = 0.0</text><text y="-4">samples = 1</text><text y="8">value = [1, 0]</text><text y="20">class = high_risk</text></g>
<g id="n18_13" transform="translate(2032)"><use href="#lb"/><text y="-16">gini = 0.0</text><text y="-4">samples = 1</text><text y="8">value = [0, 1]</text><text y="20">class = low_risk</text></g>
<g id="n18_14" transform="translate(2074)"><use href="#lo"/><text y="-16">gini = 0.0</text><text y="-4">samples = 1</text><text y="8">value = [1, 0]</text><text y="20">class = high_risk</text></g>
<g id="n18_15" transform="translate(2114)"><rect class="b" x="-61.5" width="123" y="-33.5" height="67"/><text y="-21">installment &lt;= 1.09</text><text y="-9">gini = 0.002</text><text y="3">samples = 13425</text><text y="15">value = [15, 13410]</text><text y="27">class = low_risk</text></g>
<g id="n18_16" transform="translate(2329)"><rect class="b" x="-71.5" width="143" y="-33.5" height="67"/><text y="-21">out_prncp_inv &lt;= 0.8</text><text y="-9">gini = 0.008</text><text y="3">samples = 5925</text><text y="15">value = [32, 5893]</text><text y="27">class = low_risk</text></g>
<g id="n18_17" transform="translate(2373)"><use href="#lo"/><text y="-16">gini = 0.0</text><text y="-4">samples = 1</text><text y="8">value = [1, 0]</text><text y="20">class = high_risk</text></g>
<g id="n18_18" transform="translate(2413)"><use href="#lb"/><text y="-16">gini = 0.0</text><text y="-4">samples = 1</text><text y="8">value = [0, 1]</text><text y="20">class = low_risk</text></g>
</g>
<g transform="translate(0,1731)">
<g id="n19_1" transform="translate(555)"><rect class="b" x="-63.5" width="127" y="-33.5" height="67"/><text y="-21">tot_cur_bal &lt;= 2.109</text><text y="-9">gini = 0.005</text><text y="3">samples = 1658</text><text y="15">value = [4, 1654]</text><text y="27">class = low_risk</text></g>
<g id="n19_2" transform="translate(749)"><rect style="fill:#59ade9" x="-99.5" width="199" y="-33.5" height="67"/><text y="-21">collection_recovery_fee &lt;= 0.5</text><text y="-9">gini = 0.24</text><text y="3">samples = 79</text><text y="15">value = [11, 68]</text><text y="27">class = low_risk</text></g>
<g id="n19_3" transform="translate(863)"><rect class="b" x="-63.5" width="127" y="-33.5" height="67"/><text y="-21">installment &lt;= 0.3</text><text y="-9">gini = 0.003</text><text y="3">samples = 1800</text><text y="15">value = [3, 1797]</text><text y="27">class = low_risk</text></g>
<g id="n19_4" transform="translate(945)"><rect class="b" x="-78.5" width="157" y="-33.5" height="67"/><text y="-21">total_pymnt_inv &lt;= 0.4</text><text y="-9">gini = 0.001</text><text y="3">samples = 5630</text><text y="15">value = [2, 5628]</text><text y="27">class = low_risk</text></g>
<g id="n19_5" transform="translate(987)"><use href="#lo"/><text y="-16">gini = 0.0</text><text y="-4">samples = 1</text><text y="8">value = [1, 0]</text><text y="20">class = high_risk</text></g>
<g id="n19_6" transform="translate(1028)"><use href="#lb"/><text y="-16">gini = 0.0</text><text y="-4">samples = 1</text><text y="8">value = [0, 1]</text><text y="20">class = low_risk</text></g>
<g id="n19_7" transform="translate(1069)"><use href="#lb"/><text y="-16">gini = 0.0</text><text y="-4">samples = 1</text><text y="8">value = [0, 1]</text><text y="20">class = low_risk</text></g>
<g id="n19_8" transform="translate(1110)"><use href="#lo"/><text y="-16">gini = 0.0</text><text y="-4">samples = 1</text><text y="8">value = [1, 0]</text><text y="20">class = high_risk</text></g>
<g id="n19_9" transform="translate(1562)"><rect class="b" x="-65.5" width="131" y="-33.5" height="67"/><text y="-21">installment &lt;= -0.4</text><text y="-9">gini = 0.011</text><text y="3">samples = 2780</text><text y="15">value = [16, 2764]</text><text y="27">class = low_risk</text></g>
<g id="n19_10" transform="translate(1687)"><rect class="w" x="-78" width="156" y="-33.5" height="67"/><text y="-21">total_rec_prncp &lt;= -0.598</text><text y="-9">gini = 0.5</text><text y="3">samples = 2</text><text y="15">value = [1, 1]</text><text y="27">class = high_risk</text></g>
<g id="n19_11" transform="translate(2038)"><rect class="b" x="-66.5" width="133" y="-33.5" height="67"/><text y="-21">total_rec_prncp &lt;= -0.4</text><text y="-9">gini = 0.002</text><text y="3">samples = 13423</text><text y="15">value = [14, 13409]</text><text y="27">class = low_risk</text></g>
<g id="n19_12" transform="translate(2176)"><rect class="w" x="-70.5" width="141" y="-33.5" height="67"/><text y="-21">num_op_rev_tl &lt;= 0.6</text><text y="-9">gini = 0.5</text><text y="3">samples = 2</text><text y="15">value = [1, 1]</text><text y="27">class = high_risk</text></g>
<g id="n19_13" transform="translate(2260)"><rect style="fill:#e88e4d" x="-84.5" width="169" y="-33.5" height="67"/><text y="-21">mths_since_rcnt_il &lt;= 0.5</text><text y="-9">gini = 0.18</text><text y="3">samples = 10</text><text y="15">value = [9, 1]</text><text y="27">class = high_risk</text></g>
<g id="n19_14" transform="translate(2401)"><rect class="b" x="-98.5" width="197" y="-33.5" height="67"/><text y="-21">collection_recovery_fee &lt;= 0.157</text><text y="-9">gini = 0.008</text><text y="3">samples = 5915</text><text y="15">value = [23, 5892]</text><text y="27">class = low_risk</text></g>
</g>
<g transform="translate(0,1800)">
<g id="n20_1" transform="translate(479)"><rect class="b" x="-82" width="164" y="-33.5" height="67"/><text y="-21">mo_sin_old_il_acct &lt;= -1.48</text><text y="-9">gini = 0.002</text><text y="3">samples = 1602</text><text y="15">value = [2, 1600]</text><text y="27">class = low_risk</text></g>
<g id="n20_2" transform="translate(626)"><rect class="b" x="-65.5" width="131" y="-33.5" height="67"/><text y="-21">inq_last_12m &lt;= 0.5</text><text y="-9">gini = 0.07</text><text y="3">samples = 56</text><text y="15">value = [2, 54]</text><text y="27">class = low_risk</text></g>
<g id="n20_3" transform="translate(705)"><rect style="fill:#f2c09c" x="-71.5" width="143" y="-33.5" height="67"/><text y="-21">num_op_rev_tl &lt;= 0.5</text><text y="-9">gini = 0.444</text><text y="3">samples = 6</text><text y="15">value = [4, 2]</text><text y="27">class = high_risk</text></g>
<g id="n20_4" transform="translate(792)"><rect class="b" x="-50" width="100" y="-33.5" height="67"/><text y="-21">all_util &lt;= 0.5</text><text y="-9">gini = 0.1</text><text y="3">samples = 73</text><text y="15">value = [7, 66]</text><text y="27">class = low_risk</text></g>
<g id="n20_5" transform="translate(844)"><use href="#lb"/><text y="-16">gini = 0.0</text><text y="-4">samples = 1</text><text y="8">value = [0, 1]</text><text y="20">class = low_risk</text></g>
<g id="n20_6" transform="translate(884)"><use href="#lo"/><text y="-16">gini = 0.0</text><text y="-4">samples = 1</text><text y="8">value = [1, 0]</text><text y="20">class = high_risk</text></g>
<g id="n20_7" transform="translate(925)"><rect class="b" x="-79.5" width="159" y="-33.5" height="67"/><text y="-21">total_pymnt_inv &lt;= 0.2</text><text y="-9">gini = 0.03</text><text y="3">samples = 70</text><text y="15">value = [1, 69]</text><text y="27">class = low_risk</text></g>
<g id="n20_8" transform="translate(966)"><rect class="b" x="-54" width="108" y="-27" height="54"/><text y="-16">gini = 0.0</text><text y="-4">samples = 5628</text><text y="8">value = [0, 5628]</text><text y="20">class = low_risk</text></g>
<g id="n20_9" transform="translate(1491)"><rect class="b" x="-62.5" width="125" y="-33.5" height="67"/><text y="-21">num_tl_30dpd &lt;= 8.1</text><text y="-9">gini = 0.004</text><text y="3">samples = 2436</text><text y="15">value = [5, 2431]</text><text y="27">class = low_risk</text></g>
<g id="n20_10" transform="translate(1624)"><rect class="b" x="-69.5" width="139" y="-33.5" height="67"/><text y="-21">out_prncp_inv &lt;= 0.5</text><text y="-9">gini = 0.03</text><text y="3">samples = 344</text><text y="15">value = [11, 333]</text><text y="27">class = low_risk</text></g>
<g id="n20_11" transform="translate(1667)"><use href="#lb"/><text y="-16">gini = 0.0</text><text y="-4">samples = 1</text><text y="8">value = [0, 1]</text><text y="20">class = low_risk</text></g>
<g id="n20_12" transform="translate(1707)"><use href="#lo"/><text y="-16">gini = 0.0</text><text y="-4">samples = 1</text><text y="8">value = [1, 0]</text><text y="20">class = high_risk</text></g>
<g id="n20_13" transform="translate(1982)"><rect style="fill:#42a2e6" x="-62.5" width="125" y="-33.5" height="67"/><text y="-21">out_prncp &lt;= -1.175</text><text y="-9">gini = 0.083</text><text y="3">samples = 23</text><text y="15">value = [1, 22]</text><text y="27">class = low_risk</text></g>
<g id="n20_14" transform="translate(2117)"><rect class="b" x="-59.5" width="119" y="-33.5" height="67"/><text y="-21">mort_acc &lt;= 0.5</text><text y="-9">gini = 0.002</text><text y="3">samples = 13400</text><text y="15">value = [13, 13387]</text><text y="27">class = low_risk</text></g>
<g id="n20_15" transform="translate(2159)"><use href="#lo"/><text y="-16">gini = 0.0</text><text y="-4">samples = 1</text><text y="8">value = [1, 0]</text><text y="20">class = high_risk</text></g>
<g id="n20_16" transform="translate(2200)"><use href="#lb"/><text y="-16">gini = 0.0</text><text y="-4">samples = 1</text><text y="8">value = [0, 1]</text><text y="20">class = low_risk</text></g>
<g id="n20_17" transform="translate(2241)"><use href="#lb"/><text y="-16">gini = 0.0</text><text y="-4">samples = 1</text><text y="8">value = [0, 1]</text><text y="20">class = low_risk</text></g>
<g id="n20_18" transform="translate(2283)"><use href="#lo"/><text y="-16">gini = 0.0</text><text y="-4">samples = 9</text><text y="8">value = [9, 0]</text><text y="20">class = high_risk</text></g>
<g id="n20_19" transform="translate(2323)"><rect class="w" x="-69" width="138" y="-33.5" height="67"/><text y="-21">num_bc_sats &lt;= 0.346</text><text y="-9">gini = 0.5</text><text y="3">samples = 2</text><text y="15">value = [1, 1]</text><text y="27">class = high_risk</text></g>
<g id="n20_20" transform="translate(2479)"><rect class="b" x="-72.5" width="145" y="-33.5" height="67"/><text y="-21">out_prncp_inv &lt;= 0.171</text><text y="-9">gini = 0.007</text><text y="3">samples = 5913</text><text y="15">value = [22, 5891]</text><text y="27">class = low_risk</text></g>
</g>
<g transform="translate(0,1869)">
<g id="n21_1" transform="translate(442)"><rect class="b" x="-94.5" width="189" y="-33.5" height="67"/><text y="-21">mths_since_recent_bc &lt;= 0.4</text><text y="-9">gini = 0.002</text><text y="3">samples = 1590</text><text y="15">value = [1, 1589]</text><text y="27">class = low_risk</text></g>
<g id="n21_2" transform="translate(522)"><rect class="b" x="-63.5" width="127" y="-33.5" height="67"/><text y="-21">num_bc_sats &lt;= 0.3</text><text y="-9">gini = 0.1</text><text y="3">samples = 12</text><text y="15">value = [1, 11]</text><text y="27">class = low_risk</text></g>
<g id="n21_3" transform="translate(606)"><rect style="fill:#70b8ec" x="-79.5" width="159" y="-33.5" height="67"/><text y="-21">total_pymnt_inv &lt;= 0.3</text><text y="-9">gini = 0.375</text><text y="3">samples = 4</text><text y="15">value = [1, 3]</text><text y="27">class = low_risk</text></g>
<g id="n21_4" transform="translate(647)"><use href="#lb"/><text y="-16">gini = 0.0</text><text y="-4">samples = 1</text><text y="8">value = [0, 1]</text><text y="20">class = low_risk</text></g>
<g id="n21_5" transform="translate(689)"><use href="#lo"/><text y="-16">gini = 0.0</text><text y="-4">samples = 1</text><text y="8">value = [1, 0]</text><text y="20">class = high_risk</text></g>
<g id="n21_6" transform="translate(730)"><use href="#lb"/><text y="-16">gini = 0.0</text><text y="-4">samples = 1</text><text y="8">value = [0, 1]</text><text y="20">class = low_risk</text></g>
<g id="n21_7" transform="translate(772)"><rect class="b" x="-71.5" width="143" y="-33.5" height="67"/><text y="-21">out_prncp_inv &lt;= 0.3</text><text y="-9">gini = 0.02</text><text y="3">samples = 60</text><text y="15">value = [1, 59]</text><text y="27">class = low_risk</text></g>
<g id="n21_8" transform="translate(812)"><use href="#lo"/><text y="-16">gini = 0.0</text><text y="-4">samples = 1</text><text y="8">value = [1, 0]</text><text y="20">class = high_risk</text></g>
<g id="n21_9" transform="translate(903)"><rect class="b" x="-56.5" width="113" y="-33.5" height="67"/><text y="-21">total_acc &lt;= 0.5</text><text y="-9">gini = 0.02</text><text y="3">samples = 69</text><text y="15">value = [1, 68]</text><text y="27">class = low_risk</text></g>
<g id="n21_10" transform="translate(946)"><use href="#lo"/><text y="-16">gini = 0.0</text><text y="-4">samples = 1</text><text y="8">value = [1, 0]</text><text y="20">class = high_risk</text></g>
<g id="n21_11" transform="translate(1439)"><rect class="b" x="-53.5" width="107" y="-33.5" height="67"/><text y="-21">int_rate &lt;= 2.90</text><text y="-9">gini = 0.003</text><text y="3">samples = 2432</text><text y="15">value = [4, 2428]</text><text y="27">class = low_risk</text></g>
<g id="n21_12" transform="translate(1562)"><rect style="fill:#7bbeee" x="-75.5" width="151" y="-33.5" height="67"/><text y="-21">tot_hi_cred_lim &lt;= 0.2</text><text y="-9">gini = 0.375</text><text y="3">samples = 4</text><text y="15">value = [1, 3]</text><text y="27">class = low_risk</text></g>
<g id="n21_13" transform="translate(1645)"><rect class="b" x="-103" width="206" y="-33.5" height="67"/><text y="-21">next_pymnt_d_Apr-2019 &lt;= -0.237</text><text y="-9">gini = 0.018</text><text y="3">samples = 336</text><text y="15">value = [3, 333]</text><text y="27">class = low_risk</text></g>
<g id="n21_14" transform="translate(1962)"><use href="#lb"/><text y="-16">gini = 0.0</text><text y="-4">samples = 1</text><text y="8">value = [0, 1]</text><text y="20">class = low_risk</text></g>
<g id="n21_15" transform="translate(2003)"><use href="#lo"/><text y="-16">gini = 0.0</text><text y="-4">samples = 1</text><text y="8">value = [1, 0]</text><text y="20">class = high_risk</text></g>
<g id="n21_16" transform="translate(2044)"><rect class="b" x="-60.5" width="121" y="-33.5" height="67"/><text y="-21">total_cu_tl &lt;= 5.55</text><text y="-9">gini = 0.002</text><text y="3">samples = 13365</text><text y="15">value = [12, 13353]</text><text y="27">class = low_risk</text></g>
<g id="n21_17" transform="translate(2190)"><rect class="b" x="-59" width="118" y="-33.5" height="67"/><text y="-21">mort_acc &lt;= 5.938</text><text y="-9">gini = 0.056</text><text y="3">samples = 35</text><text y="15">value = [1, 34]</text><text y="27">class = low_risk</text></g>
<g id="n21_18" transform="translate(2303)"><use href="#lo"/><text y="-16">gini = 0.0</text><text y="-4">samples = 1</text><text y="8">value = [1, 0]</text><text y="20">class = high_risk</text></g>
<g id="n21_19" transform="translate(2345)"><use href="#lb"/><text y="-16">gini = 0.0</text><text y="-4">samples = 1</text><text y="8">value = [0, 1]</text><text y="20">class = low_risk</text></g>
<g id="n21_20" transform="translate(2385)"><rect style="fill:#7bbeee" x="-76.5" width="153" y="-33.5" height="67"/><text y="-21">inq_last_6mths &lt;= -1.011</text><text y="-9">gini = 0.375</text><text y="3">samples = 4</text><text y="15">value = [1, 3]</text><text y="27">class = low_risk</text></g>
<g id="n21_21" transform="translate(2573)"><rect class="b" x="-97.5" width="195" y="-33.5" height="67"/><text y="-21">acc_open_past_24mths &lt;= 7.236</text><text y="-9">gini = 0.007</text><text y="3">samples = 5909</text><text y="15">value = [21, 5888]</text><text y="27">class = low_risk</text></g>
</g>
<g transform="translate(0,1938)">
<g id="n22_1" transform="translate(421)"><use href="#lb"/><text y="-16">gini = 0.0</text><text y="-4">samples = 1</text><text y="8">value = [0, 1]</text><text y="20">class = low_risk</text></g>
<g id="n22_2" transform="translate(462)"><use href="#lo"/><text y="-16">gini = 0.0</text><text y="-4">samples = 1</text><text y="8">value = [1, 0]</text><text y="20">class = high_risk</text></g>
<g id="n22_3" transform="translate(545)"><rect class="b" x="-100.5" width="201" y="-33.5" height="67"/><text y="-21">acc_open_past_24mths &lt;= 0.6</text><text y="-9">gini = 0.002</text><text y="3">samples = 1500</text><text y="15">value = [1, 1499]</text><text y="27">class = low_risk</text></g>
<g id="n22_4" transform="translate(586)"><use href="#lo"/><text y="-16">gini = 0.0</text><text y="-4">samples = 1</text><text y="8">value = [1, 0]</text><text y="20">class = high_risk</text></g>
<g id="n22_5" transform="translate(627)"><use href="#lb"/><text y="-16">gini = 0.0</text><text y="-4">samples = 7</text><text y="8">value = [0, 7]</text><text y="20">class = low_risk</text></g>
<g id="n22_6" transform="translate(752)"><rect class="b" x="-73.5" width="147" y="-33.5" height="67"/><text y="-21">num_op_rev_tl &lt;= 0.5</text><text y="-9">gini = 0.2</text><text y="3">samples = 9</text><text y="15">value = [1, 8]</text><text y="27">class = low_risk</text></g>
<g id="n22_7" transform="translate(792)"><use href="#lo"/><text y="-16">gini = 0.0</text><text y="-4">samples = 1</text><text y="8">value = [1, 0]</text><text y="20">class = high_risk</text></g>
<g id="n22_8" transform="translate(863)"><rect class="b" x="-63.5" width="127" y="-33.5" height="67"/><text y="-21">installment &lt;= 0.5</text><text y="-9">gini = 0.018</text><text y="3">samples = 55</text><text y="15">value = [1, 54]</text><text y="27">class = low_risk</text></g>
<g id="n22_9" transform="translate(946)"><rect style="fill:#7bbeee" x="-78.5" width="157" y="-33.5" height="67"/><text y="-21">num_actv_rev_tl &lt;= 0.421</text><text y="-9">gini = 0.375</text><text y="3">samples = 8</text><text y="15">value = [2, 6]</text><text y="27">class = low_risk</text></g>
<g id="n22_10" transform="translate(1376)"><rect class="b" x="-66.5" width="133" y="-33.5" height="67"/><text y="-21">open_il_12m &lt;= 2.34</text><text y="-9">gini = 0.002</text><text y="3">samples = 2424</text><text y="15">value = [3, 2421]</text><text y="27">class = low_risk</text></g>
<g id="n22_11" transform="translate(1501)"><rect style="fill:#62b1ea" x="-59.5" width="119" y="-33.5" height="67"/><text y="-21">total_acc &lt;= 0.6</text><text y="-9">gini = 0.278</text><text y="3">samples = 6</text><text y="15">value = [1, 5]</text><text y="27">class = low_risk</text></g>
<g id="n22_12" transform="translate(1543)"><use href="#lo"/><text y="-16">gini = 0.0</text><text y="-4">samples = 1</text><text y="8">value = [1, 0]</text><text y="20">class = high_risk</text></g>
<g id="n22_13" transform="translate(1585)"><use href="#lb"/><text y="-16">gini = 0.0</text><text y="-4">samples = 1</text><text y="8">value = [0, 1]</text><text y="20">class = low_risk</text></g>
<g id="n22_14" transform="translate(1624)"><use href="#lb"/><text y="-16">gini = 0.0</text><text y="-4">samples = 1</text><text y="8">value = [0, 1]</text><text y="20">class = low_risk</text></g>
<g id="n22_15" transform="translate(1666)"><rect style="fill:#45a3e7" x="-68.5" width="137" y="-33.5" height="67"/><text y="-21">total_pymnt &lt;= -0.326</text><text y="-9">gini = 0.107</text><text y="3">samples = 53</text><text y="15">value = [3, 50]</text><text y="27">class = low_risk</text></g>
<g id="n22_16" transform="translate(1960)"><rect class="b" x="-78" width="156" y="-33.5" height="67"/><text y="-21">total_rec_prncp &lt;= -0.496</text><text y="-9">gini = 0.002</text><text y="3">samples = 13329</text><text y="15">value = [11, 13318]</text><text y="27">class = low_risk</text></g>
<g id="n22_17" transform="translate(2130)"><rect class="b" x="-73.5" width="147" y="-33.5" height="67"/><text y="-21">open_rv_24m &lt;= 0.5</text><text y="-9">gini = 0.05</text><text y="3">samples = 36</text><text y="15">value = [1, 35]</text><text y="27">class = low_risk</text></g>
<g id="n22_18" transform="translate(2170)"><use href="#lo"/><text y="-16">gini = 0.0</text><text y="-4">samples = 1</text><text y="8">value = [1, 0]</text><text y="20">class = high_risk</text></g>
<g id="n22_19" transform="translate(2211)"><use href="#lb"/><text y="-16">gini = 0.0</text><text y="-4">samples = 34</text><text y="8">value = [0, 34]</text><text y="20">class = low_risk</text></g>
<g id="n22_20" transform="translate(2365)"><use href="#lo"/><text y="-16">gini = 0.0</text><text y="-4">samples = 1</text><text y="8">value = [1, 0]</text><text y="20">class = high_risk</text></g>
<g id="n22_21" transform="translate(2447)"><rect class="b" x="-86" width="172" y="-33.5" height="67"/><text y="-21">mo_sin_old_il_acct &lt;= -1.356</text><text y="-9">gini = 0.007</text><text y="3">samples = 5896</text><text y="15">value = [20, 5876]</text><text y="27">class = low_risk</text></g>
<g id="n22_22" transform="translate(2701)"><rect style="fill:#47a4e7" x="-98" width="196" y="-33.5" height="67"/><text y="-21">acc_open_past_24mths &lt;= 7.367</text><text y="-9">gini = 0.142</text><text y="3">samples = 13</text><text y="15">value = [1, 12]</text><text y="27">class = low_risk</text></g>
</g>
<g transform="translate(0,2007)">
<g id="n23_1" transform="translate(524)"><use href="#lb"/><text y="-16">gini = 0.0</text><text y="-4">samples = 1</text><text y="8">value = [0, 1]</text><text y="20">class = low_risk</text></g>
<g id="n23_2" transform="translate(565)"><use href="#lo"/><text y="-16">gini = 0.0</text><text y="-4">samples = 1</text><text y="8">value = [1, 0]</text><text y="20">class = high_risk</text></g>
<g id="n23_3" transform="translate(698)"><rect style="fill:#68b4eb" x="-95.5" width="191" y="-33.5" height="67"/><text y="-21">mths_since_recent_bc &lt;= 0.2</text><text y="-9">gini = 0.308</text><text y="3">samples = 21</text><text y="15">value = [4, 17]</text><text y="27">class = low_risk</text></g>
<g id="n23_4" transform="translate(801)"><rect class="b" x="-60.5" width="121" y="-33.5" height="67"/><text y="-21">num_bc_tl &lt;= 0.5</text><text y="-9">gini = 0.1</text><text y="3">samples = 18</text><text y="15">value = [1, 17]</text><text y="27">class = low_risk</text></g>
<g id="n23_5" transform="translate(882)"><rect class="b" x="-98.5" width="197" y="-33.5" height="67"/><text y="-21">collection_recovery_fee &lt;= 0.5</text><text y="-9">gini = 0.012</text><text y="3">samples = 165</text><text y="15">value = [1, 164]</text><text y="27">class = low_risk</text></g>
<g id="n23_6" transform="translate(926)"><use href="#lb"/><text y="-16">gini = 0.0</text><text y="-4">samples = 1</text><text y="8">value = [0, 1]</text><text y="20">class = low_risk</text></g>
<g id="n23_7" transform="translate(967)"><use href="#lo"/><text y="-16">gini = 0.0</text><text y="-4">samples = 2</text><text y="8">value = [2, 0]</text><text y="20">class = high_risk</text></g>
<g id="n23_8" transform="translate(1316)"><rect class="b" x="-97.5" width="195" y="-33.5" height="67"/><text y="-21">acc_open_past_24mths &lt;= 0.7</text><text y="-9">gini = 0.002</text><text y="3">samples = 2400</text><text y="15">value = [1, 2399]</text><text y="27">class = low_risk</text></g>
<g id="n23_9" transform="translate(1440)"><rect class="b" x="-96.5" width="193" y="-33.5" height="67"/><text y="-21">mths_since_recent_bc &lt;= 0.3</text><text y="-9">gini = 0.05</text><text y="3">samples = 23</text><text y="15">value = [1, 22]</text><text y="27">class = low_risk</text></g>
<g id="n23_10" transform="translate(1481)"><use href="#lb"/><text y="-16">gini = 0.0</text><text y="-4">samples = 1</text><text y="8">value = [0, 1]</text><text y="20">class = low_risk</text></g>
<g id="n23_11" transform="translate(1522)"><use href="#lo"/><text y="-16">gini = 0.0</text><text y="-4">samples = 1</text><text y="8">value = [1, 0]</text><text y="20">class = high_risk</text></g>
<g id="n23_12" transform="translate(1686)"><rect style="fill:#41a1e6" x="-96" width="192" y="-33.5" height="67"/><text y="-21">mths_since_recent_bc &lt;= -1.193</text><text y="-9">gini = 0.074</text><text y="3">samples = 52</text><text y="15">value = [2, 50]</text><text y="27">class = low_risk</text></g>
<g id="n23_13" transform="translate(1851)"><rect class="b" x="-54.5" width="109" y="-33.5" height="67"/><text y="-21">int_rate &lt;= 0.969</text><text y="-9">gini = 0.005</text><text y="3">samples = 3000</text><text y="15">value = [8, 2992]</text><text y="27">class = low_risk</text></g>
<g id="n23_14" transform="translate(2068)"><rect class="b" x="-84.5" width="169" y="-33.5" height="67"/><text y="-21">mo_sin_old_il_acct &lt;= 0.5</text><text y="-9">gini = 0.002</text><text y="3">samples = 1100</text><text y="15">value = [3, 1097]</text><text y="27">class = low_risk</text></g>
<g id="n23_15" transform="translate(2109)"><use href="#lo"/><text y="-16">gini = 0.0</text><text y="-4">samples = 1</text><text y="8">value = [1, 0]</text><text y="20">class = high_risk</text></g>
<g id="n23_16" transform="translate(2150)"><use href="#lb"/><text y="-16">gini = 0.0</text><text y="-4">samples = 30</text><text y="8">value = [0, 30]</text><text y="20">class = low_risk</text></g>
<g id="n23_17" transform="translate(2256)"><rect style="fill:#3fa1e6" x="-69.5" width="139" y="-33.5" height="67"/><text y="-21">delinq_amnt &lt;= -2.037</text><text y="-9">gini = 0.064</text><text y="3">samples = 60</text><text y="15">value = [2, 58]</text><text y="27">class = low_risk</text></g>
<g id="n23_18" transform="translate(2638)"><rect class="b" x="-63.5" width="127" y="-33.5" height="67"/><text y="-21">tot_cur_bal &lt;= 0.4</text><text y="-9">gini = 0.1</text><text y="3">samples = 12</text><text y="15">value = [1, 11]</text><text y="27">class = low_risk</text></g>
<g id="n23_19" transform="translate(2681)"><use href="#lo"/><text y="-16">gini = 0.0</text><text y="-4">samples = 1</text><text y="8">value = [1, 0]</text><text y="20">class = high_risk</text></g>
<g id="n23_20" transform="translate(2722)"><use href="#lb"/><text y="-16">gini = 0.0</text><text y="-4">samples = 12</text><text y="8">value = [0, 12]</text><text y="20">class = low_risk</text></g>
</g>
<g transform="translate(0,2076)">
<g id="n24_1" transform="translate(656)"><rect class="w" x="-69.5" width="139" y="-33.5" height="67"/><text y="-21">num_bc_sats &lt;= 0.5</text><text y="-9">gini = 0.5</text><text y="3">samples = 2</text><text y="15">value = [1, 1]</text><text y="27">class = high_risk</text></g>
<g id="n24_2" transform="translate(739)"><rect class="b" x="-75.5" width="151" y="-33.5" height="67"/><text y="-21">inq_last_6mths &lt;= 0.5</text><text y="-9">gini = 0.1</text><text y="3">samples = 17</text><text y="15">value = [1, 16]</text><text y="27">class = low_risk</text></g>
<g id="n24_3" transform="translate(781)"><use href="#lb"/><text y="-16">gini = 0.0</text><text y="-4">samples = 1</text><text y="8">value = [0, 1]</text><text y="20">class = low_risk</text></g>
<g id="n24_4" transform="translate(819)"><rect class="w" x="-56.5" width="113" y="-33.5" height="67"/><text y="-21">total_acc &lt;= 0.5</text><text y="-9">gini = 0.5</text><text y="3">samples = 2</text><text y="15">value = [1, 1]</text><text y="27">class = high_risk</text></g>
<g id="n24_5" transform="translate(864)"><use href="#lo"/><text y="-16">gini = 0.0</text><text y="-4">samples = 1</text><text y="8">value = [1, 0]</text><text y="20">class = high_risk</text></g>
<g id="n24_6" transform="translate(905)"><rect class="b" x="-66" width="132" y="-33.5" height="67"/><text y="-21">avg_cur_bal &lt;= 1.978</text><text y="-9">gini = 0.012</text><text y="3">samples = 162</text><text y="15">value = [1, 161]</text><text y="27">class = low_risk</text></g>
<g id="n24_7" transform="translate(1336)"><rect class="b" x="-97.5" width="195" y="-33.5" height="67"/><text y="-21">acc_open_past_24mths &lt;= 0.5</text><text y="-9">gini = 0.002</text><text y="3">samples = 2300</text><text y="15">value = [2, 2298]</text><text y="27">class = low_risk</text></g>
<g id="n24_8" transform="translate(1418)"><rect class="b" x="-83.5" width="167" y="-33.5" height="67"/><text y="-21">mo_sin_old_il_acct &lt;= 0.6</text><text y="-9">gini = 0.05</text><text y="3">samples = 22</text><text y="15">value = [1, 21]</text><text y="27">class = low_risk</text></g>
<g id="n24_9" transform="translate(1460)"><use href="#lo"/><text y="-16">gini = 0.0</text><text y="-4">samples = 1</text><text y="8">value = [1, 0]</text><text y="20">class = high_risk</text></g>
<g id="n24_10" transform="translate(1663)"><rect class="w" x="-59.5" width="119" y="-33.5" height="67"/><text y="-21">out_prncp &lt;= 0.5</text><text y="-9">gini = 0.5</text><text y="3">samples = 2</text><text y="15">value = [1, 1]</text><text y="27">class = high_risk</text></g>
<g id="n24_11" transform="translate(1707)"><use href="#lb"/><text y="-16">gini = 0.0</text><text y="-4">samples = 12</text><text y="8">value = [0, 12]</text><text y="20">class = low_risk</text></g>
<g id="n24_12" transform="translate(1789)"><rect class="b" x="-64.5" width="129" y="-33.5" height="67"/><text y="-21">installment &lt;= 0.3</text><text y="-9">gini = 0.004</text><text y="3">samples = 2986</text><text y="15">value = [6, 2980]</text><text y="27">class = low_risk</text></g>
<g id="n24_13" transform="translate(1912)"><rect style="fill:#55abe8" x="-76.5" width="153" y="-33.5" height="67"/><text y="-21">tot_hi_cred_lim &lt;= 0.5</text><text y="-9">gini = 0.219</text><text y="3">samples = 8</text><text y="15">value = [1, 7]</text><text y="27">class = low_risk</text></g>
<g id="n24_14" transform="translate(2014)"><rect class="b" x="-96.5" width="193" y="-33.5" height="67"/><text y="-21">acc_open_past_24mths &lt;= 0.4</text><text y="-9">gini = 0.0</text><text y="3">samples = 1026</text><text y="15">value = [2, 1025]</text><text y="27">class = low_risk</text></g>
<g id="n24_15" transform="translate(2118)"><rect class="b" x="-61" width="122" y="-33.5" height="67"/><text y="-21">num_bc_tl &lt;= 1.191</text><text y="-9">gini = 0.029</text><text y="3">samples = 69</text><text y="15">value = [1, 68]</text><text y="27">class = low_risk</text></g>
<g id="n24_16" transform="translate(2277)"><rect class="b" x="-97.5" width="195" y="-33.5" height="67"/><text y="-21">acc_open_past_24mths &lt;= 1.629</text><text y="-9">gini = 0.033</text><text y="3">samples = 59</text><text y="15">value = [1, 58]</text><text y="27">class = low_risk</text></g>
<g id="n24_17" transform="translate(2504)"><rect class="b" x="-66" width="132" y="-33.5" height="67"/><text y="-21">delinq_2yrs &lt;= 3.963</text><text y="-9">gini = 0.004</text><text y="3">samples = 5273</text><text y="15">value = [11, 5262]</text><text y="27">class = low_risk</text></g>
<g id="n24_18" transform="translate(2775)"><rect class="b" x="-73" width="146" y="-33.5" height="67"/><text y="-21">mo_sin_rcnt_tl &lt;= 5.197</text><text y="-9">gini = 0.025</text><text y="3">samples = 563</text><text y="15">value = [7, 556]</text><text y="27">class = low_risk</text></g>
</g>
<g transform="translate(0,2145)">
<g id="n25_1" transform="translate(637)"><use href="#lb"/><text y="-16">gini = 0.0</text><text y="-4">samples = 1</text><text y="8">value = [0, 1]</text><text y="20">class = low_risk</text></g>
<g id="n25_2" transform="translate(679)"><use href="#lo"/><text y="-16">gini = 0.0</text><text y="-4">samples = 1</text><text y="8">value = [1, 0]</text><text y="20">class = high_risk</text></g>
<g id="n25_3" transform="translate(720)"><use href="#lb"/><text y="-16">gini = 0.0</text><text y="-4">samples = 1</text><text y="8">value = [0, 1]</text><text y="20">class = low_risk</text></g>
<g id="n25_4" transform="translate(761)"><use href="#lo"/><text y="-16">gini = 0.0</text><text y="-4">samples = 1</text><text y="8">value = [1, 0]</text><text y="20">class = high_risk</text></g>
<g id="n25_5" transform="translate(802)"><use href="#lb"/><text y="-16">gini = 0.0</text><text y="-4">samples = 1</text><text y="8">value = [0, 1]</text><text y="20">class = low_risk</text></g>
<g id="n25_6" transform="translate(843)"><use href="#lo"/><text y="-16">gini = 0.0</text><text y="-4">samples = 1</text><text y="8">value = [1, 0]</text><text y="20">class = high_risk</text></g>
<g id="n25_7" transform="translate(884)"><use href="#lb"/><text y="-16">gini = 0.0</text><text y="-4">samples = 159</text><text y="8">value = [0, 159]</text><text y="20">class = low_risk</text></g>
<g id="n25_8" transform="translate(925)"><rect style="fill:#9ccef2" x="-55" width="110" y="-33.5" height="67"/><text y="-21">pub_rec &lt;= 0.535</text><text y="-9">gini = 0.444</text><text y="3">samples = 3</text><text y="15">value = [1, 2]</text><text y="27">class = low_risk</text></g>
<g id="n25_9" transform="translate(1316)"><use href="#lo"/><text y="-16">gini = 0.0</text><text y="-4">samples = 1</text><text y="8">value = [1, 0]</text><text y="20">class = high_risk</text></g>
<g id="n25_10" transform="translate(1357)"><use href="#lb"/><text y="-16">gini = 0.0</text><text y="-4">samples = 1</text><text y="8">value = [0, 1]</text><text y="20">class = low_risk</text></g>
<g id="n25_11" transform="translate(1398)"><use href="#lb"/><text y="-16">gini = 0.0</text><text y="-4">samples = 16</text><text y="8">value = [0, 16]</text><text y="20">class = low_risk</text></g>
<g id="n25_12" transform="translate(1440)"><rect style="fill:#6ab6ec" x="-56.5" width="113" y="-33.5" height="67"/><text y="-21">total_acc &lt;= -1.03</text><text y="-9">gini = 0.32</text><text y="3">samples = 5</text><text y="15">value = [1, 4]</text><text y="27">class = low_risk</text></g>
<g id="n25_13" transform="translate(1645)"><use href="#lb"/><text y="-16">gini = 0.0</text><text y="-4">samples = 1</text><text y="8">value = [0, 1]</text><text y="20">class = low_risk</text></g>
<g id="n25_14" transform="translate(1687)"><use href="#lo"/><text y="-16">gini = 0.0</text><text y="-4">samples = 1</text><text y="8">value = [1, 0]</text><text y="20">class = high_risk</text></g>
<g id="n25_15" transform="translate(1716)"><rect class="b" x="-66.5" width="133" y="-33.5" height="67"/><text y="-21">total_rec_prncp &lt;= -0.1</text><text y="-9">gini = 0.003</text><text y="3">samples = 2982</text><text y="15">value = [5, 2977]</text><text y="27">class = low_risk</text></g>
<g id="n25_16" transform="translate(1851)"><rect style="fill:#75baed" x="-68.5" width="137" y="-33.5" height="67"/><text y="-21">total_pymnt &lt;= 0.5</text><text y="-9">gini = 0.32</text><text y="3">samples = 4</text><text y="15">value = [1, 3]</text><text y="27">class = low_risk</text></g>
<g id="n25_17" transform="translate(1893)"><use href="#lo"/><text y="-16">gini = 0.0</text><text y="-4">samples = 1</text><text y="8">value = [1, 0]</text><text y="20">class = high_risk</text></g>
<g id="n25_18" transform="translate(1933)"><use href="#lb"/><text y="-16">gini = 0.0</text><text y="-4">samples = 1</text><text y="8">value = [0, 1]</text><text y="20">class = low_risk</text></g>
<g id="n25_19" transform="translate(1975)"><rect class="b" x="-58.5" width="117" y="-33.5" height="67"/><text y="-21">total_acc &lt;= 0.5</text><text y="-9">gini = 0.1</text><text y="3">samples = 30</text><text y="15">value = [1, 29]</text><text y="27">class = low_risk</text></g>
<g id="n25_20" transform="translate(2056)"><rect class="b" x="-96.5" width="193" y="-33.5" height="67"/><text y="-21">acc_open_past_24mths &lt;= 0.5</text><text y="-9">gini = 0.002</text><text y="3">samples = 1000</text><text y="15">value = [2, 998]</text><text y="27">class = low_risk</text></g>
<g id="n25_21" transform="translate(2099)"><use href="#lb"/><text y="-16">gini = 0.0</text><text y="-4">samples = 1</text><text y="8">value = [0, 1]</text><text y="20">class = low_risk</text></g>
<g id="n25_22" transform="translate(2139)"><rect class="w" x="-64.5" width="129" y="-33.5" height="67"/><text y="-21">delinq_2yrs &lt;= 0.005</text><text y="-9">gini = 0.5</text><text y="3">samples = 2</text><text y="15">value = [1, 1]</text><text y="27">class = high_risk</text></g>
<g id="n25_23" transform="translate(2255)"><use href="#lb"/><text y="-16">gini = 0.0</text><text y="-4">samples = 1</text><text y="8">value = [0, 1]</text><text y="20">class = low_risk</text></g>
<g id="n25_24" transform="translate(2295)"><rect style="fill:#7bbeee" x="-69.5" width="139" y="-33.5" height="67"/><text y="-21">out_prncp_inv &lt;= 0.64</text><text y="-9">gini = 0.375</text><text y="3">samples = 4</text><text y="15">value = [1, 3]</text><text y="27">class = low_risk</text></g>
<g id="n25_25" transform="translate(2435)"><rect class="b" x="-70" width="140" y="-33.5" height="67"/><text y="-21">inq_last_12m &lt;= 3.098</text><text y="-9">gini = 0.004</text><text y="3">samples = 5264</text><text y="15">value = [10, 5254]</text><text y="27">class = low_risk</text></g>
<g id="n25_26" transform="translate(2567)"><rect style="fill:#51a9e8" x="-61.5" width="123" y="-33.5" height="67"/><text y="-21">loan_status &lt;= -0.34</text><text y="-9">gini = 0.198</text><text y="3">samples = 9</text><text y="15">value = [1, 8]</text><text y="27">class = low_risk</text></g>
<g id="n25_27" transform="translate(2703)"><rect class="b" x="-73" width="146" y="-33.5" height="67"/><text y="-21">total_pymnt_inv &lt;= 0.07</text><text y="-9">gini = 0.021</text><text y="3">samples = 560</text><text y="15">value = [6, 554]</text><text y="27">class = low_risk</text></g>
<g id="n25_28" transform="translate(2841)"><rect style="fill:#9ccef2" x="-66" width="132" y="-33.5" height="67"/><text y="-21">max_bal_bc &lt;= 0.128</text><text y="-9">gini = 0.444</text><text y="3">samples = 3</text><text y="15">value = [1, 2]</text><text y="27">class = low_risk</text></g>
</g>
<g transform="translate(0,2214)">
<g id="n26_1" transform="translate(905)"><use href="#lo"/><text y="-16">gini = 0.0</text><text y="-4">samples = 1</text><text y="8">value = [1, 0]</text><text y="20">class = high_risk</text></g>
<g id="n26_2" transform="translate(946)"><use href="#lb"/><text y="-16">gini = 0.0</text><text y="-4">samples = 2</text><text y="8">value = [0, 2]</text><text y="20">class = low_risk</text></g>
<g id="n26_3" transform="translate(1420)"><use href="#lb"/><text y="-16">gini = 0.0</text><text y="-4">samples = 4</text><text y="8">value = [0, 4]</text><text y="20">class = low_risk</text></g>
<g id="n26_4" transform="translate(1460)"><use href="#lo"/><text y="-16">gini = 0.0</text><text y="-4">samples = 1</text><text y="8">value = [1, 0]</text><text y="20">class = high_risk</text></g>
<g id="n26_5" transform="translate(1665)"><rect class="b" x="-61.5" width="123" y="-33.5" height="67"/><text y="-21">out_prncp &lt;= -0.1</text><text y="-9">gini = 0.003</text><text y="3">samples = 2970</text><text y="15">value = [4, 2966]</text><text y="27">class = low_risk</text></g>
<g id="n26_6" transform="translate(1789)"><rect style="fill:#48a5e7" x="-82.5" width="165" y="-33.5" height="67"/><text y="-21">issue_d_Mar-2019 &lt;= 0.5</text><text y="-9">gini = 0.142</text><text y="3">samples = 13</text><text y="15">value = [1, 12]</text><text y="27">class = low_risk</text></g>
<g id="n26_7" transform="translate(1831)"><use href="#lo"/><text y="-16">gini = 0.0</text><text y="-4">samples = 1</text><text y="8">value = [1, 0]</text><text y="20">class = high_risk</text></g>
<g id="n26_8" transform="translate(1872)"><use href="#lb"/><text y="-16">gini = 0.0</text><text y="-4">samples = 4</text><text y="8">value = [0, 4]</text><text y="20">class = low_risk</text></g>
<g id="n26_9" transform="translate(1949)"><use href="#lb"/><text y="-16">gini = 0.0</text><text y="-4">samples = 1</text><text y="8">value = [0, 1]</text><text y="20">class = low_risk</text></g>
<g id="n26_10" transform="translate(1996)"><rect class="b" x="-58.5" width="117" y="-33.5" height="67"/><text y="-21">total_acc &lt;= 0.4</text><text y="-9">gini = 0.1</text><text y="3">samples = 20</text><text y="15">value = [1, 19]</text><text y="27">class = low_risk</text></g>
<g id="n26_11" transform="translate(2037)"><use href="#lo"/><text y="-16">gini = 0.0</text><text y="-4">samples = 1</text><text y="8">value = [1, 0]</text><text y="20">class = high_risk</text></g>
<g id="n26_12" transform="translate(2076)"><use href="#lb"/><text y="-16">gini = 0.0</text><text y="-4">samples = 1</text><text y="8">value = [0, 1]</text><text y="20">class = low_risk</text></g>
<g id="n26_13" transform="translate(2119)"><use href="#lo"/><text y="-16">gini = 0.0</text><text y="-4">samples = 1</text><text y="8">value = [1, 0]</text><text y="20">class = high_risk</text></g>
<g id="n26_14" transform="translate(2160)"><use href="#lb"/><text y="-16">gini = 0.0</text><text y="-4">samples = 1</text><text y="8">value = [0, 1]</text><text y="20">class = low_risk</text></g>
<g id="n26_15" transform="translate(2277)"><use href="#lo"/><text y="-16">gini = 0.0</text><text y="-4">samples = 1</text><text y="8">value = [1, 0]</text><text y="20">class = high_risk</text></g>
<g id="n26_16" transform="translate(2319)"><use href="#lb"/><text y="-16">gini = 0.0</text><text y="-4">samples = 1</text><text y="8">value = [0, 1]</text><text y="20">class = low_risk</text></g>
<g id="n26_17" transform="translate(2358)"><rect class="b" x="-68" width="136" y="-33.5" height="67"/><text y="-21">delinq_amnt &lt;= 3.597</text><text y="-9">gini = 0.003</text><text y="3">samples = 5245</text><text y="15">value = [9, 5236]</text><text y="27">class = low_risk</text></g>
<g id="n26_18" transform="translate(2510)"><rect class="b" x="-67.5" width="135" y="-33.5" height="67"/><text y="-21">tot_coll_amt &lt;= 0.3</text><text y="-9">gini = 0.02</text><text y="3">samples = 505</text><text y="15">value = [3, 502]</text><text y="27">class = low_risk</text></g>
<g id="n26_19" transform="translate(2553)"><use href="#lo"/><text y="-16">gini = 0.0</text><text y="-4">samples = 1</text><text y="8">value = [1, 0]</text><text y="20">class = high_risk</text></g>
<g id="n26_20" transform="translate(2595)"><use href="#lb"/><text y="-16">gini = 0.0</text><text y="-4">samples = 1</text><text y="8">value = [0, 1]</text><text y="20">class = low_risk</text></g>
<g id="n26_21" transform="translate(2635)"><rect style="fill:#45a3e7" x="-76" width="152" y="-33.5" height="67"/><text y="-21">total_rec_prncp &lt;= 0.924</text><text y="-9">gini = 0.111</text><text y="3">samples = 51</text><text y="15">value = [3, 48]</text><text y="27">class = low_risk</text></g>
<g id="n26_22" transform="translate(2778)"><rect class="b" x="-60.5" width="121" y="-33.5" height="67"/><text y="-21">out_prncp &lt;= 0.3</text><text y="-9">gini = 0.1</text><text y="3">samples = 12</text><text y="15">value = [1, 11]</text><text y="27">class = low_risk</text></g>
<g id="n26_23" transform="translate(2821)"><use href="#lb"/><text y="-16">gini = 0.0</text><text y="-4">samples = 1</text><text y="8">value = [0, 1]</text><text y="20">class = low_risk</text></g>
<g id="n26_24" transform="translate(2862)"><use href="#lo"/><text y="-16">gini = 0.0</text><text y="-4">samples = 1</text><text y="8">value = [1, 0]</text><text y="20">class = high_risk</text></g>
</g>
<g transform="translate(0,2283)">
<g id="n27_1" transform="translate(1603)"><rect class="b" x="-93.5" width="187" y="-33.5" height="67"/><text y="-21">mths_since_recent_bc &lt;= 0.5</text><text y="-9">gini = 0.001</text><text y="3">samples = 2735</text><text y="15">value = [1, 2734]</text><text y="27">class = low_risk</text></g>
<g id="n27_2" transform="translate(1727)"><rect class="b" x="-59.5" width="119" y="-33.5" height="67"/><text y="-21">total_acc &lt;= 0.3</text><text y="-9">gini = 0.1</text><text y="3">samples = 225</text><text y="15">value = [3, 222]</text><text y="27">class = low_risk</text></g>
<g id="n27_3" transform="translate(1769)"><use href="#lo"/><text y="-16">gini = 0.0</text><text y="-4">samples = 1</text><text y="8">value = [1, 0]</text><text y="20">class = high_risk</text></g>
<g id="n27_4" transform="translate(1810)"><use href="#lb"/><text y="-16">gini = 0.0</text><text y="-4">samples = 10</text><text y="8">value = [0, 10]</text><text y="20">class = low_risk</text></g>
<g id="n27_5" transform="translate(1975)"><use href="#lo"/><text y="-16">gini = 0.0</text><text y="-4">samples = 1</text><text y="8">value = [1, 0]</text><text y="20">class = high_risk</text></g>
<g id="n27_6" transform="translate(2015)"><rect class="b" x="-50" y="-27" width="100" height="54"/><text y="-16">gini = 0.0</text><text y="-4">samples = 247</text><text y="8">value = [0, 247]</text><text y="20">class = low_risk</text></g>
<g id="n27_7" transform="translate(2269)"><rect class="b" x="-67" width="134" y="-33.5" height="67"/><text y="-21">loan_status &lt;= -0.767</text><text y="-9">gini = 0.003</text><text y="3">samples = 5226</text><text y="15">value = [8, 5218]</text><text y="27">class = low_risk</text></g>
<g id="n27_8" transform="translate(2449)"><rect class="b" x="-67.5" width="135" y="-33.5" height="67"/><text y="-21">delinq_amnt &lt;= 0.3</text><text y="-9">gini = 0.1</text><text y="3">samples = 17</text><text y="15">value = [1, 16]</text><text y="27">class = low_risk</text></g>
<g id="n27_9" transform="translate(2491)"><use href="#lo"/><text y="-16">gini = 0.0</text><text y="-4">samples = 1</text><text y="8">value = [1, 0]</text><text y="20">class = high_risk</text></g>
<g id="n27_10" transform="translate(2532)"><use href="#lb"/><text y="-16">gini = 0.0</text><text y="-4">samples = 1</text><text y="8">value = [0, 1]</text><text y="20">class = low_risk</text></g>
<g id="n27_11" transform="translate(2614)"><use href="#lo"/><text y="-16">gini = 0.0</text><text y="-4">samples = 1</text><text y="8">value = [1, 0]</text><text y="20">class = high_risk</text></g>
<g id="n27_12" transform="translate(2652)"><rect class="b" x="-56" width="112" y="-33.5" height="67"/><text y="-21">mort_acc &lt;= 0.79</text><text y="-9">gini = 0.077</text><text y="3">samples = 50</text><text y="15">value = [2, 48]</text><text y="27">class = low_risk</text></g>
<g id="n27_13" transform="translate(2800)"><rect class="b" x="-86" width="172" y="-33.5" height="67"/><text y="-21">mths_since_rcnt_il &lt;= -0.312</text><text y="-9">gini = 0.084</text><text y="3">samples = 68</text><text y="15">value = [3, 65]</text><text y="27">class = low_risk</text></g>
</g>
<g transform="translate(0,2352)">
<g id="n28_1" transform="translate(1580)"><use href="#lb"/><text y="-16">gini = 0.0</text><text y="-4">samples = 1</text><text y="8">value = [0, 1]</text><text y="20">class = low_risk</text></g>
<g id="n28_2" transform="translate(1621)"><rect class="b" x="-72.5" width="145" y="-33.5" height="67"/><text y="-21">acc_now_delinq &lt;= 0.5</text><text y="-9">gini = 0.023</text><text y="3">samples = 87</text><text y="15">value = [1, 86]</text><text y="27">class = low_risk</text></g>
<g id="n28_3" transform="translate(1748)"><rect class="b" x="-82.5" width="165" y="-33.5" height="67"/><text y="-21">issue_d_Mar-2019 &lt;= 0.237</text><text y="-9">gini = 0.017</text><text y="3">samples = 235</text><text y="15">value = [2, 233]</text><text y="27">class = low_risk</text></g>
<g id="n28_4" transform="translate(2150)"><rect class="b" x="-61.5" width="123" y="-33.5" height="67"/><text y="-21">num_bc_tl &lt;= 2.513</text><text y="-9">gini = 0.026</text><text y="3">samples = 229</text><text y="15">value = [3, 226]</text><text y="27">class = low_risk</text></g>
<g id="n28_5" transform="translate(2387)"><rect class="b" x="-97.5" width="195" y="-33.5" height="67"/><text y="-21">acc_open_past_24mths &lt;= 0.4</text><text y="-9">gini = 0.003</text><text y="3">samples = 4997</text><text y="15">value = [5, 4992]</text><text y="27">class = low_risk</text></g>
<g id="n28_6" transform="translate(2429)"><use href="#lo"/><text y="-16">gini = 0.0</text><text y="-4">samples = 1</text><text y="8">value = [1, 0]</text><text y="20">class = high_risk</text></g>
<g id="n28_7" transform="translate(2470)"><use href="#lb"/><text y="-16">gini = 0.0</text><text y="-4">samples = 18</text><text y="8">value = [0, 18]</text><text y="20">class = low_risk</text></g>
<g id="n28_8" transform="translate(2613)"><rect class="b" x="-74.5" width="149" y="-33.5" height="67"/><text y="-21">total_rec_prncp &lt;= 0.3</text><text y="-9">gini = 0.04</text><text y="3">samples = 47</text><text y="15">value = [1, 46]</text><text y="27">class = low_risk</text></g>
<g id="n28_9" transform="translate(2694)"><rect class="w" x="-54.5" width="109" y="-33.5" height="67"/><text y="-21">total_acc &lt;= 0.5</text><text y="-9">gini = 0.5</text><text y="3">samples = 2</text><text y="15">value = [1, 1]</text><text y="27">class = high_risk</text></g>
<g id="n28_10" transform="translate(2779)"><rect style="fill:#60b0ea" x="-85.5" width="171" y="-33.5" height="67"/><text y="-21">mths_since_recent_bc &lt;= 0.6</text><text y="-9">gini = 0.278</text><text y="3">samples = 6</text><text y="15">value = [1, 5]</text><text y="27">class = low_risk</text></g>
<g id="n28_11" transform="translate(2821)"><use href="#lb"/><text y="-16">gini = 0.0</text><text y="-4">samples = 52</text><text y="8">value = [0, 52]</text><text y="20">class = low_risk</text></g>
</g>
<g transform="translate(0,2421)">
<g id="n29_1" transform="translate(1604)"><use href="#lb"/><text y="-16">gini = 0.0</text><text y="-4">samples = 80</text><text y="8">value = [0, 80]</text><text y="20">class = low_risk</text></g>
<g id="n29_2" transform="translate(1645)"><rect style="fill:#9ccef2" x="-57.5" width="115" y="-33.5" height="67"/><text y="-21">revol_bal &lt;= 0.4</text><text y="-9">gini = 0.444</text><text y="3">samples = 3</text><text y="15">value = [1, 2]</text><text y="27">class = low_risk</text></g>
<g id="n29_3" transform="translate(1727)"><rect style="fill:#70b8ec" x="-72.5" width="145" y="-33.5" height="67"/><text y="-21">total_rev_hi_lim &lt;= 0.6</text><text y="-9">gini = 0.32</text><text y="3">samples = 5</text><text y="15">value = [1, 4]</text><text y="27">class = low_risk</text></g>
<g id="n29_4" transform="translate(1768)"><rect class="b" x="-50" y="-27" width="100" height="54"/><text y="-16">gini = 0.0</text><text y="-4">samples = 226</text><text y="8">value = [0, 226]</text><text y="20">class = low_risk</text></g>
<g id="n29_5" transform="translate(2098)"><rect class="b" x="-65.5" width="131" y="-33.5" height="67"/><text y="-21">loan_status &lt;= 0.5</text><text y="-9">gini = 0.01</text><text y="3">samples = 212</text><text y="15">value = [2, 210]</text><text y="27">class = low_risk</text></g>
<g id="n29_6" transform="translate(2200)"><rect class="w" x="-71.5" width="143" y="-33.5" height="67"/><text y="-21">pct_tl_nvr_dlq &lt;= 0.5</text><text y="-9">gini = 0.5</text><text y="3">samples = 2</text><text y="15">value = [1, 1]</text><text y="27">class = high_risk</text></g>
<g id="n29_7" transform="translate(2298)"><rect class="b" x="-74.5" width="149" y="-33.5" height="67"/><text y="-21">last_pymnt_amnt &lt;= 3.5</text><text y="-9">gini = 0.001</text><text y="3">samples = 4780</text><text y="15">value = [2, 4778]</text><text y="27">class = low_risk</text></g>
<g id="n29_8" transform="translate(2469)"><rect class="b" x="-96.5" width="193" y="-33.5" height="67"/><text y="-21">acc_open_past_24mths &lt;= 0.3</text><text y="-9">gini = 0.027</text><text y="3">samples = 217</text><text y="15">value = [3, 214]</text><text y="27">class = low_risk</text></g>
<g id="n29_9" transform="translate(2594)"><rect style="fill:#9ccef2" x="-70.5" width="141" y="-33.5" height="67"/><text y="-21">open_il_24m &lt;= 0.5</text><text y="-9">gini = 0.444</text><text y="3">samples = 3</text><text y="15">value = [1, 2]</text><text y="27">class = low_risk</text></g>
<g id="n29_10" transform="translate(2636)"><use href="#lb"/><text y="-16">gini = 0.0</text><text y="-4">samples = 1</text><text y="8">value = [0, 1]</text><text y="20">class = low_risk</text></g>
<g id="n29_11" transform="translate(2677)"><use href="#lo"/><text y="-16">gini = 0.0</text><text y="-4">samples = 1</text><text y="8">value = [1, 0]</text><text y="20">class = high_risk</text></g>
<g id="n29_12" transform="translate(2718)"><use href="#lb"/><text y="-16">gini = 0.0</text><text y="-4">samples = 1</text><text y="8">value = [0, 1]</text><text y="20">class = low_risk</text></g>
<g id="n29_13" transform="translate(2759)"><use href="#lb"/><text y="-16">gini = 0.0</text><text y="-4">samples = 1</text><text y="8">value = [0, 1]</text><text y="20">class = low_risk</text></g>
<g id="n29_14" transform="translate(2800)"><use href="#lo"/><text y="-16">gini = 0.0</text><text y="-4">samples = 3</text><text y="8">value = [3, 0]</text><text y="20">class = high_risk</text></g>
</g>
<g transform="translate(0,2490)">
<g id="n30_1" transform="translate(1625)"><use href="#lb"/><text y="-16">gini = 0.0</text><text y="-4">samples = 1</text><text y="8">value = [0, 1]</text><text y="20">class = low_risk</text></g>
<g id="n30_2" transform="translate(1666)"><use href="#lo"/><text y="-16">gini = 0.0</text><text y="-4">samples = 1</text><text y="8">value = [1, 0]</text><text y="20">class = high_risk</text></g>
<g id="n30_3" transform="translate(1707)"><use href="#lb"/><text y="-16">gini = 0.0</text><text y="-4">samples = 1</text><text y="8">value = [0, 1]</text><text y="20">class = low_risk</text></g>
<g id="n30_4" transform="translate(1749)"><use href="#lo"/><text y="-16">gini = 0.0</text><text y="-4">samples = 2</text><text y="8">value = [2, 0]</text><text y="20">class = high_risk</text></g>
<g id="n30_5" transform="translate(2057)"><rect class="b" x="-73.5" width="147" y="-33.5" height="67"/><text y="-21">num_op_rev_tl &lt;= 0.3</text><text y="-9">gini = 0.05</text><text y="3">samples = 12</text><text y="15">value = [1, 11]</text><text y="27">class = low_risk</text></g>
<g id="n30_6" transform="translate(2139)"><rect style="fill:#9ccef2" x="-79.5" width="159" y="-33.5" height="67"/><text y="-21">num_actv_rev_tl &lt;= 0.6</text><text y="-9">gini = 0.444</text><text y="3">samples = 3</text><text y="15">value = [1, 2]</text><text y="27">class = low_risk</text></g>
<g id="n30_7" transform="translate(2182)"><use href="#lb"/><text y="-16">gini = 0.0</text><text y="-4">samples = 1</text><text y="8">value = [0, 1]</text><text y="20">class = low_risk</text></g>
<g id="n30_8" transform="translate(2222)"><use href="#lo"/><text y="-16">gini = 0.0</text><text y="-4">samples = 1</text><text y="8">value = [1, 0]</text><text y="20">class = high_risk</text></g>
<g id="n30_9" transform="translate(2263)"><rect class="b" x="-71.5" width="143" y="-33.5" height="67"/><text y="-21">inq_last_12m &lt;= 0.5</text><text y="-9">gini = 0.01</text><text y="3">samples = 150</text><text y="15">value = [1, 149]</text><text y="27">class = low_risk</text></g>
<g id="n30_10" transform="translate(2338)"><rect class="b" x="-59.5" width="119" y="-33.5" height="67"/><text y="-21">open_rv_12m &lt;= 1.5</text><text y="-9">gini = 0.029</text><text y="3">samples = 67</text><text y="15">value = [1, 66]</text><text y="27">class = low_risk</text></g>
<g id="n30_11" transform="translate(2449)"><use href="#lo"/><text y="-16">gini = 0.0</text><text y="-4">samples = 1</text><text y="8">value = [1, 0]</text><text y="20">class = high_risk</text></g>
<g id="n30_12" transform="translate(2490)"><rect class="b" x="-78.5" width="157" y="-33.5" height="67"/><text y="-21">bc_open_to_buy &lt;= 0.5</text><text y="-9">gini = 0.01</text><text y="3">samples = 214</text><text y="15">value = [2, 212]</text><text y="27">class = low_risk</text></g>
<g id="n30_13" transform="translate(2572)"><use href="#lo"/><text y="-16">gini = 0.0</text><text y="-4">samples = 1</text><text y="8">value = [1, 0]</text><text y="20">class = high_risk</text></g>
<g id="n30_14" transform="translate(2613)"><use href="#lb"/><text y="-16">gini = 0.0</text><text y="-4">samples = 2</text><text y="8">value = [0, 2]</text><text y="20">class = low_risk</text></g>
</g>
<g transform="translate(0,2559)">
<g id="n31_1" transform="translate(2035)"><use href="#lb"/><text y="-16">gini = 0.0</text><text y="-4">samples = 8</text><text y="8">value = [0, 8]</text><text y="20">class = low_risk</text></g>
<g id="n31_2" transform="translate(2077)"><rect style="fill:#5fafea" x="-59.5" width="119" y="-33.5" height="67"/><text y="-21">mort_acc &lt;= 0.5</text><text y="-9">gini = 0.278</text><text y="3">samples = 6</text><text y="15">value = [1, 5]</text><text y="27">class = low_risk</text></g>
<g id="n31_3" transform="translate(2119)"><use href="#lb"/><text y="-16">gini = 0.0</text><text y="-4">samples = 1</text><text y="8">value = [0, 1]</text><text y="20">class = low_risk</text></g>
<g id="n31_4" transform="translate(2161)"><use href="#lo"/><text y="-16">gini = 0.0</text><text y="-4">samples = 1</text><text y="8">value = [1, 0]</text><text y="20">class = high_risk</text></g>
<g id="n31_5" transform="translate(2242)"><rect class="b" x="-61.5" width="123" y="-33.5" height="67"/><text y="-21">total_cu_tl &lt;= 0.5</text><text y="-9">gini = 0.05</text><text y="3">samples = 40</text><text y="15">value = [1, 39]</text><text y="27">class = low_risk</text></g>
<g id="n31_6" transform="translate(2279)"><use href="#lb"/><text y="-16">gini = 0.0</text><text y="-4">samples = 1</text><text y="8">value = [0, 1]</text><text y="20">class = low_risk</text></g>
<g id="n31_7" transform="translate(2326)"><use href="#lb"/><text y="-16">gini = 0.0</text><text y="-4">samples = 1</text><text y="8">value = [0, 1]</text><text y="20">class = low_risk</text></g>
<g id="n31_8" transform="translate(2365)"><rect style="fill:#7bbeee" x="-50.5" width="101" y="-33.5" height="67"/><text y="-21">all_util &lt;= 0.5</text><text y="-9">gini = 0.375</text><text y="3">samples = 4</text><text y="15">value = [1, 3]</text><text y="27">class = low_risk</text></g>
<g id="n31_9" transform="translate(2448)"><rect class="b" x="-62.5" width="125" y="-33.5" height="67"/><text y="-21">annual_inc &lt;= 0.5</text><text y="-9">gini = 0.01</text><text y="3">samples = 62</text><text y="15">value = [1, 61]</text><text y="27">class = low_risk</text></g>
<g id="n31_10" transform="translate(2530)"><rect style="fill:#7bbeee" x="-67" width="134" y="-33.5" height="67"/><text y="-21">loan_status &lt;= -0.459</text><text y="-9">gini = 0.375</text><text y="3">samples = 4</text><text y="15">value = [1, 3]</text><text y="27">class = low_risk</text></g>
</g>
<g transform="translate(0,2628)">
<g id="n32_1" transform="translate(2057)"><use href="#lb"/><text y="-16">gini = 0.0</text><text y="-4">samples = 1</text><text y="8">value = [0, 1]</text><text y="20">class = low_risk</text></g>
<g id="n32_2" transform="translate(2098)"><use href="#lo"/><text y="-16">gini = 0.0</text><text y="-4">samples = 1</text><text y="8">value = [1, 0]</text><text y="20">class = high_risk</text></g>
<g id="n32_3" transform="translate(2221)"><use href="#lb"/><text y="-16">gini = 0.0</text><text y="-4">samples = 1</text><text y="8">value = [0, 1]</text><text y="20">class = low_risk</text></g>
<g id="n32_4" transform="translate(2263)"><rect style="fill:#62b1ea" x="-66.5" width="133" y="-33.5" height="67"/><text y="-21">tot_coll_amt &lt;= 0.3</text><text y="-9">gini = 0.278</text><text y="3">samples = 6</text><text y="15">value = [1, 5]</text><text y="27">class = low_risk</text></g>
<g id="n32_5" transform="translate(2346)"><use href="#lo"/><text y="-16">gini = 0.0</text><text y="-4">samples = 1</text><text y="8">value = [1, 0]</text><text y="20">class = high_risk</text></g>
<g id="n32_6" transform="translate(2387)"><use href="#lb"/><text y="-16">gini = 0.0</text><text y="-4">samples = 1</text><text y="8">value = [0, 1]</text><text y="20">class = low_risk</text></g>
<g id="n32_7" transform="translate(2426)"><use href="#lb"/><text y="-16">gini = 0.0</text><text y="-4">samples = 1</text><text y="8">value = [0, 1]</text><text y="20">class = low_risk</text></g>
<g id="n32_8" transform="translate(2468)"><rect class="b" x="-62.5" width="125" y="-33.5" height="67"/><text y="-21">annual_inc &lt;= 0.4</text><text y="-9">gini = 0.1</text><text y="3">samples = 30</text><text y="15">value = [1, 29]</text><text y="27">class = low_risk</text></g>
<g id="n32_9" transform="translate(2510)"><use href="#lo"/><text y="-16">gini = 0.0</text><text y="-4">samples = 1</text><text y="8">value = [1, 0]</text><text y="20">class = high_risk</text></g>
<g id="n32_10" transform="translate(2551)"><use href="#lb"/><text y="-16">gini = 0.0</text><text y="-4">samples = 3</text><text y="8">value = [0, 3]</text><text y="20">class = low_risk</text></g>
</g>
<g transform="translate(0,2697)">
<g id="n33_1" transform="translate(2243)"><use href="#lb"/><text y="-16">gini = 0.0</text><text y="-4">samples = 1</text><text y="8">value = [0, 1]</text><text y="20">class = low_risk</text></g>
<g id="n33_2" transform="translate(2284)"><use href="#lo"/><text y="-16">gini = 0.0</text><text y="-4">samples = 1</text><text y="8">value = [1, 0]</text><text y="20">class = high_risk</text></g>
<g id="n33_3" transform="translate(2448)"><rect style="fill:#9ccef2" x="-59.5" width="119" y="-33.5" height="67"/><text y="-21">num_il_tl &lt;= 0.4</text><text y="-9">gini = 0.444</text><text y="3">samples = 3</text><text y="15">value = [1, 2]</text><text y="27">class = low_risk</text></g>
<g id="n33_4" transform="translate(2490)"><use href="#lb"/><text y="-16">gini = 0.0</text><text y="-4">samples = 36</text><text y="8">value = [0, 36]</text><text y="20">class = low_risk</text></g>
</g>
<g transform="translate(0,2766)">
<g id="n34_1" transform="translate(2428)"><use href="#lo"/><text y="-16">gini = 0.0</text><text y="-4">samples = 1</text><text y="8">value = [1, 0]</text><text y="20">class = high_risk</text></g>
<g id="n34_2" transform="translate(2469)"><use href="#lb"/><text y="-16">gini = 0.0</text><text y="-4">samples = 2</text><text y="8">value = [0, 2]</text><text y="20">class = low_risk</text></g>
</g>
</svg>
